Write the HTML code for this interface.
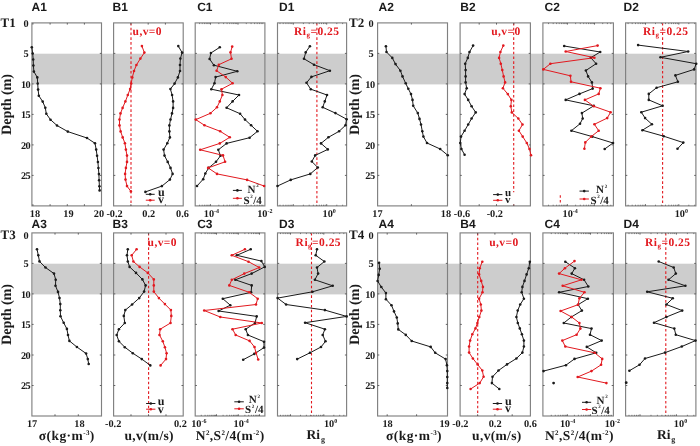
<!DOCTYPE html>
<html><head><meta charset="utf-8"><title>Profiles</title>
<style>html,body{margin:0;padding:0;background:#fff}svg{display:block}text{text-rendering:geometricPrecision}</style>
</head><body>
<svg width="700" height="446" viewBox="0 0 700 446">
<rect x="0" y="0" width="700" height="446" fill="#ffffff"/>
<rect x="32.4" y="53.7" width="314.6" height="30.7" fill="#cdcdcd"/>
<rect x="378" y="53.7" width="318.6" height="30.7" fill="#cdcdcd"/>
<rect x="32.4" y="263.7" width="314.6" height="30.7" fill="#cdcdcd"/>
<rect x="378" y="263.7" width="318.6" height="30.7" fill="#cdcdcd"/>
<rect x="31.9" y="22.9" width="69.6" height="183.0" fill="none" stroke="#808080" stroke-width="1.15"/>
<path d="M31.9,53.4h1.7M101.5,53.4h-1.7M31.9,83.9h1.7M101.5,83.9h-1.7M31.9,114.4h1.7M101.5,114.4h-1.7M31.9,144.9h1.7M101.5,144.9h-1.7M31.9,175.4h1.7M101.5,175.4h-1.7M32.9,22.9v1.7M32.9,205.9v-1.7M50.1,22.9v1.7M50.1,205.9v-1.7M67.3,22.9v1.7M67.3,205.9v-1.7M84.4,22.9v1.7M84.4,205.9v-1.7" stroke="#555" stroke-width="0.9" fill="none"/>
<polyline points="31.8,47.2 32.7,53.5 33.2,59.5 33.4,65.5 33.9,71.6 37.3,77.4 37.7,83.5 38.1,89.6 38.8,95.7 42.7,101.6 45.3,107.7 46.3,113.8 50.5,119.7 57.0,125.5 67.8,131.6 87.0,138.0 95.0,143.3 96.2,149.6 97.1,155.8 97.9,162.0 98.4,168.0 98.9,174.1 99.1,180.2 99.4,186.2 99.6,190.4" fill="none" stroke="#1a1a1a" stroke-width="1.0" stroke-linejoin="round"/>
<circle cx="31.8" cy="47.2" r="1.3" fill="#1a1a1a"/>
<circle cx="32.7" cy="53.5" r="1.3" fill="#1a1a1a"/>
<circle cx="33.2" cy="59.5" r="1.3" fill="#1a1a1a"/>
<circle cx="33.4" cy="65.5" r="1.3" fill="#1a1a1a"/>
<circle cx="33.9" cy="71.6" r="1.3" fill="#1a1a1a"/>
<circle cx="37.3" cy="77.4" r="1.3" fill="#1a1a1a"/>
<circle cx="37.7" cy="83.5" r="1.3" fill="#1a1a1a"/>
<circle cx="38.1" cy="89.6" r="1.3" fill="#1a1a1a"/>
<circle cx="38.8" cy="95.7" r="1.3" fill="#1a1a1a"/>
<circle cx="42.7" cy="101.6" r="1.3" fill="#1a1a1a"/>
<circle cx="45.3" cy="107.7" r="1.3" fill="#1a1a1a"/>
<circle cx="46.3" cy="113.8" r="1.3" fill="#1a1a1a"/>
<circle cx="50.5" cy="119.7" r="1.3" fill="#1a1a1a"/>
<circle cx="57.0" cy="125.5" r="1.3" fill="#1a1a1a"/>
<circle cx="67.8" cy="131.6" r="1.3" fill="#1a1a1a"/>
<circle cx="87.0" cy="138.0" r="1.3" fill="#1a1a1a"/>
<circle cx="95.0" cy="143.3" r="1.3" fill="#1a1a1a"/>
<circle cx="96.2" cy="149.6" r="1.3" fill="#1a1a1a"/>
<circle cx="97.1" cy="155.8" r="1.3" fill="#1a1a1a"/>
<circle cx="97.9" cy="162.0" r="1.3" fill="#1a1a1a"/>
<circle cx="98.4" cy="168.0" r="1.3" fill="#1a1a1a"/>
<circle cx="98.9" cy="174.1" r="1.3" fill="#1a1a1a"/>
<circle cx="99.1" cy="180.2" r="1.3" fill="#1a1a1a"/>
<circle cx="99.4" cy="186.2" r="1.3" fill="#1a1a1a"/>
<circle cx="99.6" cy="190.4" r="1.3" fill="#1a1a1a"/>
<text x="35.0" y="217.0" font-family='"Liberation Serif", serif' font-size="10.3" font-weight="bold" fill="#1a1a1a" text-anchor="middle" >18</text>
<text x="68.4" y="217.0" font-family='"Liberation Serif", serif' font-size="10.3" font-weight="bold" fill="#1a1a1a" text-anchor="middle" >19</text>
<text x="98.9" y="217.0" font-family='"Liberation Serif", serif' font-size="10.3" font-weight="bold" fill="#1a1a1a" text-anchor="middle" >20</text>
<line x1="131.0" y1="22.9" x2="131.0" y2="205.9" stroke="#e2191f" stroke-width="1.1" stroke-dasharray="2.6,2.2"/>
<rect x="113.6" y="22.9" width="69.6" height="183.0" fill="none" stroke="#808080" stroke-width="1.15"/>
<path d="M113.6,53.4h1.7M183.2,53.4h-1.7M113.6,83.9h1.7M183.2,83.9h-1.7M113.6,114.4h1.7M183.2,114.4h-1.7M113.6,144.9h1.7M183.2,144.9h-1.7M113.6,175.4h1.7M183.2,175.4h-1.7M130.9,22.9v1.7M130.9,205.9v-1.7M148.2,22.9v1.7M148.2,205.9v-1.7M165.4,22.9v1.7M165.4,205.9v-1.7" stroke="#555" stroke-width="0.9" fill="none"/>
<polyline points="178.3,46.1 182.1,52.6 180.4,58.6 180.0,65.0 180.0,71.0 177.9,77.4 174.6,83.6 170.4,89.0 172.1,95.0 173.1,101.4 173.1,107.9 172.0,113.4 170.5,119.6 169.4,125.4 169.4,131.4 169.9,137.4 167.3,143.2 163.6,149.6 164.5,155.6 167.7,161.9 170.5,167.9 172.6,173.9 169.9,179.6 161.9,186.1 145.4,191.9" fill="none" stroke="#1a1a1a" stroke-width="1.0" stroke-linejoin="round"/>
<circle cx="178.3" cy="46.1" r="1.3" fill="#1a1a1a"/>
<circle cx="182.1" cy="52.6" r="1.3" fill="#1a1a1a"/>
<circle cx="180.4" cy="58.6" r="1.3" fill="#1a1a1a"/>
<circle cx="180.0" cy="65.0" r="1.3" fill="#1a1a1a"/>
<circle cx="180.0" cy="71.0" r="1.3" fill="#1a1a1a"/>
<circle cx="177.9" cy="77.4" r="1.3" fill="#1a1a1a"/>
<circle cx="174.6" cy="83.6" r="1.3" fill="#1a1a1a"/>
<circle cx="170.4" cy="89.0" r="1.3" fill="#1a1a1a"/>
<circle cx="172.1" cy="95.0" r="1.3" fill="#1a1a1a"/>
<circle cx="173.1" cy="101.4" r="1.3" fill="#1a1a1a"/>
<circle cx="173.1" cy="107.9" r="1.3" fill="#1a1a1a"/>
<circle cx="172.0" cy="113.4" r="1.3" fill="#1a1a1a"/>
<circle cx="170.5" cy="119.6" r="1.3" fill="#1a1a1a"/>
<circle cx="169.4" cy="125.4" r="1.3" fill="#1a1a1a"/>
<circle cx="169.4" cy="131.4" r="1.3" fill="#1a1a1a"/>
<circle cx="169.9" cy="137.4" r="1.3" fill="#1a1a1a"/>
<circle cx="167.3" cy="143.2" r="1.3" fill="#1a1a1a"/>
<circle cx="163.6" cy="149.6" r="1.3" fill="#1a1a1a"/>
<circle cx="164.5" cy="155.6" r="1.3" fill="#1a1a1a"/>
<circle cx="167.7" cy="161.9" r="1.3" fill="#1a1a1a"/>
<circle cx="170.5" cy="167.9" r="1.3" fill="#1a1a1a"/>
<circle cx="172.6" cy="173.9" r="1.3" fill="#1a1a1a"/>
<circle cx="169.9" cy="179.6" r="1.3" fill="#1a1a1a"/>
<circle cx="161.9" cy="186.1" r="1.3" fill="#1a1a1a"/>
<circle cx="145.4" cy="191.9" r="1.3" fill="#1a1a1a"/>
<polyline points="141.9,46.1 144.4,52.6 140.4,58.6 136.4,65.0 134.0,71.0 132.3,77.4 131.2,83.6 130.1,89.0 127.8,95.0 125.4,101.4 122.6,107.9 120.5,113.4 119.5,119.6 119.5,125.4 120.6,131.4 122.7,137.4 124.9,143.2 125.9,149.6 127.0,155.6 127.0,161.9 125.9,167.9 125.1,173.9 125.5,179.6 127.0,186.1 130.9,191.4" fill="none" stroke="#e2191f" stroke-width="1.0" stroke-linejoin="round"/>
<circle cx="141.9" cy="46.1" r="1.3" fill="#e2191f"/>
<circle cx="144.4" cy="52.6" r="1.3" fill="#e2191f"/>
<circle cx="140.4" cy="58.6" r="1.3" fill="#e2191f"/>
<circle cx="136.4" cy="65.0" r="1.3" fill="#e2191f"/>
<circle cx="134.0" cy="71.0" r="1.3" fill="#e2191f"/>
<circle cx="132.3" cy="77.4" r="1.3" fill="#e2191f"/>
<circle cx="131.2" cy="83.6" r="1.3" fill="#e2191f"/>
<circle cx="130.1" cy="89.0" r="1.3" fill="#e2191f"/>
<circle cx="127.8" cy="95.0" r="1.3" fill="#e2191f"/>
<circle cx="125.4" cy="101.4" r="1.3" fill="#e2191f"/>
<circle cx="122.6" cy="107.9" r="1.3" fill="#e2191f"/>
<circle cx="120.5" cy="113.4" r="1.3" fill="#e2191f"/>
<circle cx="119.5" cy="119.6" r="1.3" fill="#e2191f"/>
<circle cx="119.5" cy="125.4" r="1.3" fill="#e2191f"/>
<circle cx="120.6" cy="131.4" r="1.3" fill="#e2191f"/>
<circle cx="122.7" cy="137.4" r="1.3" fill="#e2191f"/>
<circle cx="124.9" cy="143.2" r="1.3" fill="#e2191f"/>
<circle cx="125.9" cy="149.6" r="1.3" fill="#e2191f"/>
<circle cx="127.0" cy="155.6" r="1.3" fill="#e2191f"/>
<circle cx="127.0" cy="161.9" r="1.3" fill="#e2191f"/>
<circle cx="125.9" cy="167.9" r="1.3" fill="#e2191f"/>
<circle cx="125.1" cy="173.9" r="1.3" fill="#e2191f"/>
<circle cx="125.5" cy="179.6" r="1.3" fill="#e2191f"/>
<circle cx="127.0" cy="186.1" r="1.3" fill="#e2191f"/>
<circle cx="130.9" cy="191.4" r="1.3" fill="#e2191f"/>
<text x="114.6" y="217.0" font-family='"Liberation Serif", serif' font-size="10.3" font-weight="bold" fill="#1a1a1a" text-anchor="middle" >-0.2</text>
<text x="148.7" y="217.0" font-family='"Liberation Serif", serif' font-size="10.3" font-weight="bold" fill="#1a1a1a" text-anchor="middle" >0.2</text>
<text x="182.5" y="217.0" font-family='"Liberation Serif", serif' font-size="10.3" font-weight="bold" fill="#1a1a1a" text-anchor="middle" >0.6</text>
<rect x="195.2" y="22.9" width="69.7" height="183.0" fill="none" stroke="#808080" stroke-width="1.15"/>
<path d="M195.2,53.4h1.7M264.9,53.4h-1.7M195.2,83.9h1.7M264.9,83.9h-1.7M195.2,114.4h1.7M264.9,114.4h-1.7M195.2,144.9h1.7M264.9,144.9h-1.7M195.2,175.4h1.7M264.9,175.4h-1.7M210.5,22.9v1.7M210.5,205.9v-1.7M238.0,22.9v1.7M238.0,205.9v-1.7" stroke="#555" stroke-width="0.9" fill="none"/>
<path d="M199.6,22.9v1.2M199.6,205.9v-1.2M202.2,22.9v1.2M202.2,205.9v-1.2M204.4,22.9v1.2M204.4,205.9v-1.2M206.2,22.9v1.2M206.2,205.9v-1.2M207.8,22.9v1.2M207.8,205.9v-1.2M209.2,22.9v1.2M209.2,205.9v-1.2M218.8,22.9v1.2M218.8,205.9v-1.2M223.6,22.9v1.2M223.6,205.9v-1.2M227.1,22.9v1.2M227.1,205.9v-1.2M229.7,22.9v1.2M229.7,205.9v-1.2M231.9,22.9v1.2M231.9,205.9v-1.2M233.7,22.9v1.2M233.7,205.9v-1.2M235.3,22.9v1.2M235.3,205.9v-1.2M236.7,22.9v1.2M236.7,205.9v-1.2M246.3,22.9v1.2M246.3,205.9v-1.2M251.1,22.9v1.2M251.1,205.9v-1.2M254.6,22.9v1.2M254.6,205.9v-1.2M257.2,22.9v1.2M257.2,205.9v-1.2M259.4,22.9v1.2M259.4,205.9v-1.2M261.2,22.9v1.2M261.2,205.9v-1.2M262.8,22.9v1.2M262.8,205.9v-1.2" stroke="#555" stroke-width="0.7" fill="none"/>
<polyline points="219.8,47.3 210.9,53.0 209.6,59.0 213.9,65.2 237.3,71.3 215.6,77.1 214.5,83.3 211.3,89.2 239.0,95.0 232.6,101.4 226.6,107.8 240.1,113.7 245.0,119.6 251.1,125.3 257.5,131.3 249.6,137.7 226.6,143.4 218.3,149.8 220.5,155.8 216.0,161.8 208.7,167.9 205.3,173.5 203.2,179.2 197.0,186.0" fill="none" stroke="#1a1a1a" stroke-width="1.0" stroke-linejoin="round"/>
<circle cx="219.8" cy="47.3" r="1.3" fill="#1a1a1a"/>
<circle cx="210.9" cy="53.0" r="1.3" fill="#1a1a1a"/>
<circle cx="209.6" cy="59.0" r="1.3" fill="#1a1a1a"/>
<circle cx="213.9" cy="65.2" r="1.3" fill="#1a1a1a"/>
<circle cx="237.3" cy="71.3" r="1.3" fill="#1a1a1a"/>
<circle cx="215.6" cy="77.1" r="1.3" fill="#1a1a1a"/>
<circle cx="214.5" cy="83.3" r="1.3" fill="#1a1a1a"/>
<circle cx="211.3" cy="89.2" r="1.3" fill="#1a1a1a"/>
<circle cx="239.0" cy="95.0" r="1.3" fill="#1a1a1a"/>
<circle cx="232.6" cy="101.4" r="1.3" fill="#1a1a1a"/>
<circle cx="226.6" cy="107.8" r="1.3" fill="#1a1a1a"/>
<circle cx="240.1" cy="113.7" r="1.3" fill="#1a1a1a"/>
<circle cx="245.0" cy="119.6" r="1.3" fill="#1a1a1a"/>
<circle cx="251.1" cy="125.3" r="1.3" fill="#1a1a1a"/>
<circle cx="257.5" cy="131.3" r="1.3" fill="#1a1a1a"/>
<circle cx="249.6" cy="137.7" r="1.3" fill="#1a1a1a"/>
<circle cx="226.6" cy="143.4" r="1.3" fill="#1a1a1a"/>
<circle cx="218.3" cy="149.8" r="1.3" fill="#1a1a1a"/>
<circle cx="220.5" cy="155.8" r="1.3" fill="#1a1a1a"/>
<circle cx="216.0" cy="161.8" r="1.3" fill="#1a1a1a"/>
<circle cx="208.7" cy="167.9" r="1.3" fill="#1a1a1a"/>
<circle cx="205.3" cy="173.5" r="1.3" fill="#1a1a1a"/>
<circle cx="203.2" cy="179.2" r="1.3" fill="#1a1a1a"/>
<circle cx="197.0" cy="186.0" r="1.3" fill="#1a1a1a"/>
<polyline points="232.2,46.6 230.5,52.4 231.5,58.8 218.8,64.7 216.6,70.7 225.8,77.1 232.6,83.3 221.5,89.2 222.4,95.0 219.8,101.4 217.0,107.3 210.4,113.3 195.8,119.6 204.5,125.3 220.2,131.3 229.8,137.3 219.8,143.4 200.2,149.8 223.0,155.4 225.1,161.8 208.1,167.9 217.0,173.9 247.1,179.9 264.1,186.0" fill="none" stroke="#e2191f" stroke-width="1.0" stroke-linejoin="round"/>
<circle cx="232.2" cy="46.6" r="1.3" fill="#e2191f"/>
<circle cx="230.5" cy="52.4" r="1.3" fill="#e2191f"/>
<circle cx="231.5" cy="58.8" r="1.3" fill="#e2191f"/>
<circle cx="218.8" cy="64.7" r="1.3" fill="#e2191f"/>
<circle cx="216.6" cy="70.7" r="1.3" fill="#e2191f"/>
<circle cx="225.8" cy="77.1" r="1.3" fill="#e2191f"/>
<circle cx="232.6" cy="83.3" r="1.3" fill="#e2191f"/>
<circle cx="221.5" cy="89.2" r="1.3" fill="#e2191f"/>
<circle cx="222.4" cy="95.0" r="1.3" fill="#e2191f"/>
<circle cx="219.8" cy="101.4" r="1.3" fill="#e2191f"/>
<circle cx="217.0" cy="107.3" r="1.3" fill="#e2191f"/>
<circle cx="210.4" cy="113.3" r="1.3" fill="#e2191f"/>
<circle cx="195.8" cy="119.6" r="1.3" fill="#e2191f"/>
<circle cx="204.5" cy="125.3" r="1.3" fill="#e2191f"/>
<circle cx="220.2" cy="131.3" r="1.3" fill="#e2191f"/>
<circle cx="229.8" cy="137.3" r="1.3" fill="#e2191f"/>
<circle cx="219.8" cy="143.4" r="1.3" fill="#e2191f"/>
<circle cx="200.2" cy="149.8" r="1.3" fill="#e2191f"/>
<circle cx="223.0" cy="155.4" r="1.3" fill="#e2191f"/>
<circle cx="225.1" cy="161.8" r="1.3" fill="#e2191f"/>
<circle cx="208.1" cy="167.9" r="1.3" fill="#e2191f"/>
<circle cx="217.0" cy="173.9" r="1.3" fill="#e2191f"/>
<circle cx="247.1" cy="179.9" r="1.3" fill="#e2191f"/>
<circle cx="264.1" cy="186.0" r="1.3" fill="#e2191f"/>
<text x="211.4" y="217.0" font-family='"Liberation Serif", serif' font-size="10.3" font-weight="bold" fill="#1a1a1a" text-anchor="middle" >10<tspan dy="-4" font-size="6">-4</tspan></text>
<text x="264.8" y="217.0" font-family='"Liberation Serif", serif' font-size="10.3" font-weight="bold" fill="#1a1a1a" text-anchor="middle" >10<tspan dy="-4" font-size="6">-2</tspan></text>
<line x1="316.9" y1="22.9" x2="316.9" y2="205.9" stroke="#e2191f" stroke-width="1.1" stroke-dasharray="2.6,2.2"/>
<rect x="277.5" y="22.9" width="69.1" height="183.0" fill="none" stroke="#808080" stroke-width="1.15"/>
<path d="M277.5,53.4h1.7M346.6,53.4h-1.7M277.5,83.9h1.7M346.6,83.9h-1.7M277.5,114.4h1.7M346.6,114.4h-1.7M277.5,144.9h1.7M346.6,144.9h-1.7M277.5,175.4h1.7M346.6,175.4h-1.7M293.3,22.9v1.7M293.3,205.9v-1.7M326.7,22.9v1.7M326.7,205.9v-1.7" stroke="#555" stroke-width="0.9" fill="none"/>
<path d="M280.0,22.9v1.2M280.0,205.9v-1.2M283.2,22.9v1.2M283.2,205.9v-1.2M285.9,22.9v1.2M285.9,205.9v-1.2M288.1,22.9v1.2M288.1,205.9v-1.2M290.1,22.9v1.2M290.1,205.9v-1.2M291.8,22.9v1.2M291.8,205.9v-1.2M303.4,22.9v1.2M303.4,205.9v-1.2M309.2,22.9v1.2M309.2,205.9v-1.2M313.4,22.9v1.2M313.4,205.9v-1.2M316.6,22.9v1.2M316.6,205.9v-1.2M319.3,22.9v1.2M319.3,205.9v-1.2M321.5,22.9v1.2M321.5,205.9v-1.2M323.5,22.9v1.2M323.5,205.9v-1.2M325.2,22.9v1.2M325.2,205.9v-1.2M336.8,22.9v1.2M336.8,205.9v-1.2M342.6,22.9v1.2M342.6,205.9v-1.2" stroke="#555" stroke-width="0.7" fill="none"/>
<polyline points="309.9,46.2 305.7,52.4 304.0,58.8 314.0,64.7 329.9,70.7 311.4,76.9 306.5,82.8 310.8,89.2 327.0,95.0 324.8,101.4 322.7,107.3 335.4,113.1 346.6,119.2 345.5,125.3 339.1,131.3 328.4,137.3 321.0,143.4 327.8,149.4 315.2,155.4 311.8,161.5 317.8,167.5 310.3,173.9 290.7,179.9 277.5,186.0" fill="none" stroke="#1a1a1a" stroke-width="1.0" stroke-linejoin="round"/>
<circle cx="309.9" cy="46.2" r="1.3" fill="#1a1a1a"/>
<circle cx="305.7" cy="52.4" r="1.3" fill="#1a1a1a"/>
<circle cx="304.0" cy="58.8" r="1.3" fill="#1a1a1a"/>
<circle cx="314.0" cy="64.7" r="1.3" fill="#1a1a1a"/>
<circle cx="329.9" cy="70.7" r="1.3" fill="#1a1a1a"/>
<circle cx="311.4" cy="76.9" r="1.3" fill="#1a1a1a"/>
<circle cx="306.5" cy="82.8" r="1.3" fill="#1a1a1a"/>
<circle cx="310.8" cy="89.2" r="1.3" fill="#1a1a1a"/>
<circle cx="327.0" cy="95.0" r="1.3" fill="#1a1a1a"/>
<circle cx="324.8" cy="101.4" r="1.3" fill="#1a1a1a"/>
<circle cx="322.7" cy="107.3" r="1.3" fill="#1a1a1a"/>
<circle cx="335.4" cy="113.1" r="1.3" fill="#1a1a1a"/>
<circle cx="346.6" cy="119.2" r="1.3" fill="#1a1a1a"/>
<circle cx="345.5" cy="125.3" r="1.3" fill="#1a1a1a"/>
<circle cx="339.1" cy="131.3" r="1.3" fill="#1a1a1a"/>
<circle cx="328.4" cy="137.3" r="1.3" fill="#1a1a1a"/>
<circle cx="321.0" cy="143.4" r="1.3" fill="#1a1a1a"/>
<circle cx="327.8" cy="149.4" r="1.3" fill="#1a1a1a"/>
<circle cx="315.2" cy="155.4" r="1.3" fill="#1a1a1a"/>
<circle cx="311.8" cy="161.5" r="1.3" fill="#1a1a1a"/>
<circle cx="317.8" cy="167.5" r="1.3" fill="#1a1a1a"/>
<circle cx="310.3" cy="173.9" r="1.3" fill="#1a1a1a"/>
<circle cx="290.7" cy="179.9" r="1.3" fill="#1a1a1a"/>
<circle cx="277.5" cy="186.0" r="1.3" fill="#1a1a1a"/>
<text x="329.2" y="217.0" font-family='"Liberation Serif", serif' font-size="10.3" font-weight="bold" fill="#1a1a1a" text-anchor="middle" >10<tspan dy="-4" font-size="6">0</tspan></text>
<rect x="377.6" y="22.9" width="69.9" height="183.0" fill="none" stroke="#808080" stroke-width="1.15"/>
<path d="M377.6,53.4h1.7M447.5,53.4h-1.7M377.6,83.9h1.7M447.5,83.9h-1.7M377.6,114.4h1.7M447.5,114.4h-1.7M377.6,144.9h1.7M447.5,144.9h-1.7M377.6,175.4h1.7M447.5,175.4h-1.7M411.4,22.9v1.7M411.4,205.9v-1.7" stroke="#555" stroke-width="0.9" fill="none"/>
<polyline points="385.9,46.2 386.5,52.0 392.3,57.9 395.5,64.1 400.4,70.7 402.5,76.4 405.7,83.3 408.3,88.8 411.0,94.1 412.5,99.9 413.2,105.8 417.8,113.1 419.5,118.9 421.0,124.5 422.3,131.3 423.4,136.6 427.0,143.0 440.2,149.0 447.7,155.2" fill="none" stroke="#1a1a1a" stroke-width="1.0" stroke-linejoin="round"/>
<circle cx="385.9" cy="46.2" r="1.3" fill="#1a1a1a"/>
<circle cx="386.5" cy="52.0" r="1.3" fill="#1a1a1a"/>
<circle cx="392.3" cy="57.9" r="1.3" fill="#1a1a1a"/>
<circle cx="395.5" cy="64.1" r="1.3" fill="#1a1a1a"/>
<circle cx="400.4" cy="70.7" r="1.3" fill="#1a1a1a"/>
<circle cx="402.5" cy="76.4" r="1.3" fill="#1a1a1a"/>
<circle cx="405.7" cy="83.3" r="1.3" fill="#1a1a1a"/>
<circle cx="408.3" cy="88.8" r="1.3" fill="#1a1a1a"/>
<circle cx="411.0" cy="94.1" r="1.3" fill="#1a1a1a"/>
<circle cx="412.5" cy="99.9" r="1.3" fill="#1a1a1a"/>
<circle cx="413.2" cy="105.8" r="1.3" fill="#1a1a1a"/>
<circle cx="417.8" cy="113.1" r="1.3" fill="#1a1a1a"/>
<circle cx="419.5" cy="118.9" r="1.3" fill="#1a1a1a"/>
<circle cx="421.0" cy="124.5" r="1.3" fill="#1a1a1a"/>
<circle cx="422.3" cy="131.3" r="1.3" fill="#1a1a1a"/>
<circle cx="423.4" cy="136.6" r="1.3" fill="#1a1a1a"/>
<circle cx="427.0" cy="143.0" r="1.3" fill="#1a1a1a"/>
<circle cx="440.2" cy="149.0" r="1.3" fill="#1a1a1a"/>
<circle cx="447.7" cy="155.2" r="1.3" fill="#1a1a1a"/>
<text x="377.4" y="217.0" font-family='"Liberation Serif", serif' font-size="10.3" font-weight="bold" fill="#1a1a1a" text-anchor="middle" >17</text>
<text x="445.9" y="217.0" font-family='"Liberation Serif", serif' font-size="10.3" font-weight="bold" fill="#1a1a1a" text-anchor="middle" >18</text>
<line x1="513.7" y1="22.9" x2="513.7" y2="192.2" stroke="#e2191f" stroke-width="1.1" stroke-dasharray="2.6,2.2"/>
<line x1="513.7" y1="204.4" x2="513.7" y2="205.9" stroke="#e2191f" stroke-width="1.1" stroke-dasharray="2.6,2.2"/>
<rect x="460.1" y="22.9" width="70.3" height="183.0" fill="none" stroke="#808080" stroke-width="1.15"/>
<path d="M460.1,53.4h1.7M530.4,53.4h-1.7M460.1,83.9h1.7M530.4,83.9h-1.7M460.1,114.4h1.7M530.4,114.4h-1.7M460.1,144.9h1.7M530.4,144.9h-1.7M460.1,175.4h1.7M530.4,175.4h-1.7M479.2,22.9v1.7M479.2,205.9v-1.7M496.5,22.9v1.7M496.5,205.9v-1.7M513.8,22.9v1.7M513.8,205.9v-1.7" stroke="#555" stroke-width="0.9" fill="none"/>
<polyline points="473.1,45.6 469.5,52.0 467.8,57.9 465.2,63.7 465.6,70.1 465.6,76.4 465.6,82.4 466.7,88.2 464.6,94.1 468.2,99.9 471.6,106.3 475.7,112.4 471.6,118.5 468.2,124.5 464.6,130.7 461.0,136.6 460.3,143.0 461.4,149.0 464.6,154.7" fill="none" stroke="#1a1a1a" stroke-width="1.0" stroke-linejoin="round"/>
<circle cx="473.1" cy="45.6" r="1.3" fill="#1a1a1a"/>
<circle cx="469.5" cy="52.0" r="1.3" fill="#1a1a1a"/>
<circle cx="467.8" cy="57.9" r="1.3" fill="#1a1a1a"/>
<circle cx="465.2" cy="63.7" r="1.3" fill="#1a1a1a"/>
<circle cx="465.6" cy="70.1" r="1.3" fill="#1a1a1a"/>
<circle cx="465.6" cy="76.4" r="1.3" fill="#1a1a1a"/>
<circle cx="465.6" cy="82.4" r="1.3" fill="#1a1a1a"/>
<circle cx="466.7" cy="88.2" r="1.3" fill="#1a1a1a"/>
<circle cx="464.6" cy="94.1" r="1.3" fill="#1a1a1a"/>
<circle cx="468.2" cy="99.9" r="1.3" fill="#1a1a1a"/>
<circle cx="471.6" cy="106.3" r="1.3" fill="#1a1a1a"/>
<circle cx="475.7" cy="112.4" r="1.3" fill="#1a1a1a"/>
<circle cx="471.6" cy="118.5" r="1.3" fill="#1a1a1a"/>
<circle cx="468.2" cy="124.5" r="1.3" fill="#1a1a1a"/>
<circle cx="464.6" cy="130.7" r="1.3" fill="#1a1a1a"/>
<circle cx="461.0" cy="136.6" r="1.3" fill="#1a1a1a"/>
<circle cx="460.3" cy="143.0" r="1.3" fill="#1a1a1a"/>
<circle cx="461.4" cy="149.0" r="1.3" fill="#1a1a1a"/>
<circle cx="464.6" cy="154.7" r="1.3" fill="#1a1a1a"/>
<polyline points="503.3,45.6 500.4,52.0 499.1,57.9 500.8,63.7 502.3,70.1 503.6,76.4 505.1,82.4 502.9,88.2 507.8,94.1 511.4,99.9 510.8,106.3 511.8,112.4 518.3,118.5 522.5,124.5 518.9,130.7 522.7,136.6 526.8,143.0 529.5,149.0 531.0,155.2" fill="none" stroke="#e2191f" stroke-width="1.0" stroke-linejoin="round"/>
<circle cx="503.3" cy="45.6" r="1.3" fill="#e2191f"/>
<circle cx="500.4" cy="52.0" r="1.3" fill="#e2191f"/>
<circle cx="499.1" cy="57.9" r="1.3" fill="#e2191f"/>
<circle cx="500.8" cy="63.7" r="1.3" fill="#e2191f"/>
<circle cx="502.3" cy="70.1" r="1.3" fill="#e2191f"/>
<circle cx="503.6" cy="76.4" r="1.3" fill="#e2191f"/>
<circle cx="505.1" cy="82.4" r="1.3" fill="#e2191f"/>
<circle cx="502.9" cy="88.2" r="1.3" fill="#e2191f"/>
<circle cx="507.8" cy="94.1" r="1.3" fill="#e2191f"/>
<circle cx="511.4" cy="99.9" r="1.3" fill="#e2191f"/>
<circle cx="510.8" cy="106.3" r="1.3" fill="#e2191f"/>
<circle cx="511.8" cy="112.4" r="1.3" fill="#e2191f"/>
<circle cx="518.3" cy="118.5" r="1.3" fill="#e2191f"/>
<circle cx="522.5" cy="124.5" r="1.3" fill="#e2191f"/>
<circle cx="518.9" cy="130.7" r="1.3" fill="#e2191f"/>
<circle cx="522.7" cy="136.6" r="1.3" fill="#e2191f"/>
<circle cx="526.8" cy="143.0" r="1.3" fill="#e2191f"/>
<circle cx="529.5" cy="149.0" r="1.3" fill="#e2191f"/>
<circle cx="531.0" cy="155.2" r="1.3" fill="#e2191f"/>
<text x="462.0" y="217.0" font-family='"Liberation Serif", serif' font-size="10.3" font-weight="bold" fill="#1a1a1a" text-anchor="middle" >-0.6</text>
<text x="494.8" y="217.0" font-family='"Liberation Serif", serif' font-size="10.3" font-weight="bold" fill="#1a1a1a" text-anchor="middle" >-0.2</text>
<line x1="560.3" y1="195.2" x2="560.3" y2="203.5" stroke="#e2191f" stroke-width="1.1" stroke-dasharray="2.6,2.2"/>
<rect x="542.9" y="22.9" width="70.5" height="183.0" fill="none" stroke="#808080" stroke-width="1.15"/>
<path d="M542.9,53.4h1.7M613.4,53.4h-1.7M542.9,83.9h1.7M613.4,83.9h-1.7M542.9,114.4h1.7M613.4,114.4h-1.7M542.9,144.9h1.7M613.4,144.9h-1.7M542.9,175.4h1.7M613.4,175.4h-1.7M567.4,22.9v1.7M567.4,205.9v-1.7M594.5,22.9v1.7M594.5,205.9v-1.7" stroke="#555" stroke-width="0.9" fill="none"/>
<path d="M548.5,22.9v1.2M548.5,205.9v-1.2M553.2,22.9v1.2M553.2,205.9v-1.2M556.6,22.9v1.2M556.6,205.9v-1.2M559.2,22.9v1.2M559.2,205.9v-1.2M561.4,22.9v1.2M561.4,205.9v-1.2M563.2,22.9v1.2M563.2,205.9v-1.2M564.8,22.9v1.2M564.8,205.9v-1.2M566.2,22.9v1.2M566.2,205.9v-1.2M575.6,22.9v1.2M575.6,205.9v-1.2M580.3,22.9v1.2M580.3,205.9v-1.2M583.7,22.9v1.2M583.7,205.9v-1.2M586.3,22.9v1.2M586.3,205.9v-1.2M588.5,22.9v1.2M588.5,205.9v-1.2M590.3,22.9v1.2M590.3,205.9v-1.2M591.9,22.9v1.2M591.9,205.9v-1.2M593.3,22.9v1.2M593.3,205.9v-1.2M602.7,22.9v1.2M602.7,205.9v-1.2M607.4,22.9v1.2M607.4,205.9v-1.2M610.8,22.9v1.2M610.8,205.9v-1.2" stroke="#555" stroke-width="0.7" fill="none"/>
<polyline points="564.2,46.0 600.2,52.0 590.8,57.7 596.1,63.7 585.9,70.5 588.1,76.4 591.9,82.4 592.7,88.6 579.5,93.9 565.7,99.9 593.8,105.8 581.9,113.1 582.7,118.5 580.0,123.8 571.4,130.7 592.3,136.6 613.0,143.0 604.7,149.0" fill="none" stroke="#1a1a1a" stroke-width="1.0" stroke-linejoin="round"/>
<circle cx="564.2" cy="46.0" r="1.3" fill="#1a1a1a"/>
<circle cx="600.2" cy="52.0" r="1.3" fill="#1a1a1a"/>
<circle cx="590.8" cy="57.7" r="1.3" fill="#1a1a1a"/>
<circle cx="596.1" cy="63.7" r="1.3" fill="#1a1a1a"/>
<circle cx="585.9" cy="70.5" r="1.3" fill="#1a1a1a"/>
<circle cx="588.1" cy="76.4" r="1.3" fill="#1a1a1a"/>
<circle cx="591.9" cy="82.4" r="1.3" fill="#1a1a1a"/>
<circle cx="592.7" cy="88.6" r="1.3" fill="#1a1a1a"/>
<circle cx="579.5" cy="93.9" r="1.3" fill="#1a1a1a"/>
<circle cx="565.7" cy="99.9" r="1.3" fill="#1a1a1a"/>
<circle cx="593.8" cy="105.8" r="1.3" fill="#1a1a1a"/>
<circle cx="581.9" cy="113.1" r="1.3" fill="#1a1a1a"/>
<circle cx="582.7" cy="118.5" r="1.3" fill="#1a1a1a"/>
<circle cx="580.0" cy="123.8" r="1.3" fill="#1a1a1a"/>
<circle cx="571.4" cy="130.7" r="1.3" fill="#1a1a1a"/>
<circle cx="592.3" cy="136.6" r="1.3" fill="#1a1a1a"/>
<circle cx="613.0" cy="143.0" r="1.3" fill="#1a1a1a"/>
<circle cx="604.7" cy="149.0" r="1.3" fill="#1a1a1a"/>
<polyline points="597.6,45.6 565.7,51.5 594.4,57.7 550.4,63.7 543.3,69.4 570.4,75.8 571.0,81.8 600.4,88.2 598.7,93.9 584.9,99.9 593.8,106.3 610.6,112.2 607.2,118.1 594.4,124.3 598.7,130.7 591.2,136.6 585.3,142.4 584.4,148.8" fill="none" stroke="#e2191f" stroke-width="1.0" stroke-linejoin="round"/>
<circle cx="597.6" cy="45.6" r="1.3" fill="#e2191f"/>
<circle cx="565.7" cy="51.5" r="1.3" fill="#e2191f"/>
<circle cx="594.4" cy="57.7" r="1.3" fill="#e2191f"/>
<circle cx="550.4" cy="63.7" r="1.3" fill="#e2191f"/>
<circle cx="543.3" cy="69.4" r="1.3" fill="#e2191f"/>
<circle cx="570.4" cy="75.8" r="1.3" fill="#e2191f"/>
<circle cx="571.0" cy="81.8" r="1.3" fill="#e2191f"/>
<circle cx="600.4" cy="88.2" r="1.3" fill="#e2191f"/>
<circle cx="598.7" cy="93.9" r="1.3" fill="#e2191f"/>
<circle cx="584.9" cy="99.9" r="1.3" fill="#e2191f"/>
<circle cx="593.8" cy="106.3" r="1.3" fill="#e2191f"/>
<circle cx="610.6" cy="112.2" r="1.3" fill="#e2191f"/>
<circle cx="607.2" cy="118.1" r="1.3" fill="#e2191f"/>
<circle cx="594.4" cy="124.3" r="1.3" fill="#e2191f"/>
<circle cx="598.7" cy="130.7" r="1.3" fill="#e2191f"/>
<circle cx="591.2" cy="136.6" r="1.3" fill="#e2191f"/>
<circle cx="585.3" cy="142.4" r="1.3" fill="#e2191f"/>
<circle cx="584.4" cy="148.8" r="1.3" fill="#e2191f"/>
<text x="570.2" y="217.0" font-family='"Liberation Serif", serif' font-size="10.3" font-weight="bold" fill="#1a1a1a" text-anchor="middle" >10<tspan dy="-4" font-size="6">-4</tspan></text>
<line x1="662.6" y1="22.9" x2="662.6" y2="205.9" stroke="#e2191f" stroke-width="1.1" stroke-dasharray="2.6,2.2"/>
<rect x="625.6" y="22.9" width="70.3" height="183.0" fill="none" stroke="#808080" stroke-width="1.15"/>
<path d="M625.6,53.4h1.7M695.9,53.4h-1.7M625.6,83.9h1.7M695.9,83.9h-1.7M625.6,114.4h1.7M695.9,114.4h-1.7M625.6,144.9h1.7M695.9,144.9h-1.7M625.6,175.4h1.7M695.9,175.4h-1.7M645.5,22.9v1.7M645.5,205.9v-1.7M678.8,22.9v1.7M678.8,205.9v-1.7" stroke="#555" stroke-width="0.9" fill="none"/>
<path d="M628.1,22.9v1.2M628.1,205.9v-1.2M632.2,22.9v1.2M632.2,205.9v-1.2M635.5,22.9v1.2M635.5,205.9v-1.2M638.1,22.9v1.2M638.1,205.9v-1.2M640.3,22.9v1.2M640.3,205.9v-1.2M642.3,22.9v1.2M642.3,205.9v-1.2M644.0,22.9v1.2M644.0,205.9v-1.2M655.5,22.9v1.2M655.5,205.9v-1.2M661.4,22.9v1.2M661.4,205.9v-1.2M665.5,22.9v1.2M665.5,205.9v-1.2M668.8,22.9v1.2M668.8,205.9v-1.2M671.4,22.9v1.2M671.4,205.9v-1.2M673.6,22.9v1.2M673.6,205.9v-1.2M675.6,22.9v1.2M675.6,205.9v-1.2M677.3,22.9v1.2M677.3,205.9v-1.2M688.8,22.9v1.2M688.8,205.9v-1.2M694.7,22.9v1.2M694.7,205.9v-1.2" stroke="#555" stroke-width="0.7" fill="none"/>
<polyline points="638.1,45.1 688.2,51.5 660.5,57.3 696.2,63.7 694.1,69.4 675.4,75.4 677.9,81.8 656.6,87.7 648.8,93.9 648.8,99.9 662.6,105.8 641.3,112.2 645.1,118.1 651.9,124.3 642.4,130.2 663.7,136.2 683.3,142.6 677.5,148.8" fill="none" stroke="#1a1a1a" stroke-width="1.0" stroke-linejoin="round"/>
<circle cx="638.1" cy="45.1" r="1.3" fill="#1a1a1a"/>
<circle cx="688.2" cy="51.5" r="1.3" fill="#1a1a1a"/>
<circle cx="660.5" cy="57.3" r="1.3" fill="#1a1a1a"/>
<circle cx="696.2" cy="63.7" r="1.3" fill="#1a1a1a"/>
<circle cx="694.1" cy="69.4" r="1.3" fill="#1a1a1a"/>
<circle cx="675.4" cy="75.4" r="1.3" fill="#1a1a1a"/>
<circle cx="677.9" cy="81.8" r="1.3" fill="#1a1a1a"/>
<circle cx="656.6" cy="87.7" r="1.3" fill="#1a1a1a"/>
<circle cx="648.8" cy="93.9" r="1.3" fill="#1a1a1a"/>
<circle cx="648.8" cy="99.9" r="1.3" fill="#1a1a1a"/>
<circle cx="662.6" cy="105.8" r="1.3" fill="#1a1a1a"/>
<circle cx="641.3" cy="112.2" r="1.3" fill="#1a1a1a"/>
<circle cx="645.1" cy="118.1" r="1.3" fill="#1a1a1a"/>
<circle cx="651.9" cy="124.3" r="1.3" fill="#1a1a1a"/>
<circle cx="642.4" cy="130.2" r="1.3" fill="#1a1a1a"/>
<circle cx="663.7" cy="136.2" r="1.3" fill="#1a1a1a"/>
<circle cx="683.3" cy="142.6" r="1.3" fill="#1a1a1a"/>
<circle cx="677.5" cy="148.8" r="1.3" fill="#1a1a1a"/>
<text x="681.3" y="217.0" font-family='"Liberation Serif", serif' font-size="10.3" font-weight="bold" fill="#1a1a1a" text-anchor="middle" >10<tspan dy="-4" font-size="6">0</tspan></text>
<rect x="31.9" y="232.9" width="69.6" height="183.1" fill="none" stroke="#808080" stroke-width="1.15"/>
<path d="M31.9,263.4h1.7M101.5,263.4h-1.7M31.9,293.9h1.7M101.5,293.9h-1.7M31.9,324.4h1.7M101.5,324.4h-1.7M31.9,355.0h1.7M101.5,355.0h-1.7M31.9,385.5h1.7M101.5,385.5h-1.7M55.0,232.9v1.7M55.0,416.0v-1.7M78.3,232.9v1.7M78.3,416.0v-1.7" stroke="#555" stroke-width="0.9" fill="none"/>
<polyline points="37.0,249.2 38.3,255.3 39.5,261.4 45.5,267.5 54.0,273.6 55.7,279.7 55.5,285.8 58.0,291.9 59.5,298.0 60.3,304.1 60.3,310.2 60.5,316.3 63.7,322.8 66.9,328.9 68.0,335.0 69.4,340.9 76.9,347.0 86.1,353.5 87.8,359.1 88.7,364.0" fill="none" stroke="#1a1a1a" stroke-width="1.0" stroke-linejoin="round"/>
<circle cx="37.0" cy="249.2" r="1.3" fill="#1a1a1a"/>
<circle cx="38.3" cy="255.3" r="1.3" fill="#1a1a1a"/>
<circle cx="39.5" cy="261.4" r="1.3" fill="#1a1a1a"/>
<circle cx="45.5" cy="267.5" r="1.3" fill="#1a1a1a"/>
<circle cx="54.0" cy="273.6" r="1.3" fill="#1a1a1a"/>
<circle cx="55.7" cy="279.7" r="1.3" fill="#1a1a1a"/>
<circle cx="55.5" cy="285.8" r="1.3" fill="#1a1a1a"/>
<circle cx="58.0" cy="291.9" r="1.3" fill="#1a1a1a"/>
<circle cx="59.5" cy="298.0" r="1.3" fill="#1a1a1a"/>
<circle cx="60.3" cy="304.1" r="1.3" fill="#1a1a1a"/>
<circle cx="60.3" cy="310.2" r="1.3" fill="#1a1a1a"/>
<circle cx="60.5" cy="316.3" r="1.3" fill="#1a1a1a"/>
<circle cx="63.7" cy="322.8" r="1.3" fill="#1a1a1a"/>
<circle cx="66.9" cy="328.9" r="1.3" fill="#1a1a1a"/>
<circle cx="68.0" cy="335.0" r="1.3" fill="#1a1a1a"/>
<circle cx="69.4" cy="340.9" r="1.3" fill="#1a1a1a"/>
<circle cx="76.9" cy="347.0" r="1.3" fill="#1a1a1a"/>
<circle cx="86.1" cy="353.5" r="1.3" fill="#1a1a1a"/>
<circle cx="87.8" cy="359.1" r="1.3" fill="#1a1a1a"/>
<circle cx="88.7" cy="364.0" r="1.3" fill="#1a1a1a"/>
<text x="32.1" y="426.8" font-family='"Liberation Serif", serif' font-size="10.3" font-weight="bold" fill="#1a1a1a" text-anchor="middle" >17</text>
<text x="79.5" y="426.8" font-family='"Liberation Serif", serif' font-size="10.3" font-weight="bold" fill="#1a1a1a" text-anchor="middle" >18</text>
<line x1="148.6" y1="232.9" x2="148.6" y2="416.0" stroke="#e2191f" stroke-width="1.1" stroke-dasharray="2.6,2.2"/>
<rect x="113.6" y="232.9" width="69.6" height="183.1" fill="none" stroke="#808080" stroke-width="1.15"/>
<path d="M113.6,263.4h1.7M183.2,263.4h-1.7M113.6,293.9h1.7M183.2,293.9h-1.7M113.6,324.4h1.7M183.2,324.4h-1.7M113.6,355.0h1.7M183.2,355.0h-1.7M113.6,385.5h1.7M183.2,385.5h-1.7M131.0,232.9v1.7M131.0,416.0v-1.7M148.5,232.9v1.7M148.5,416.0v-1.7M166.0,232.9v1.7M166.0,416.0v-1.7" stroke="#555" stroke-width="0.9" fill="none"/>
<polyline points="127.8,249.3 127.0,255.3 127.8,261.5 129.6,266.9 136.0,272.9 142.4,279.4 145.6,285.4 144.1,291.6 139.2,298.1 132.1,304.5 125.3,310.1 123.8,315.9 124.8,323.0 118.9,329.2 116.7,335.0 118.9,341.3 124.8,347.2 132.8,353.2 141.8,359.1 150.3,365.4" fill="none" stroke="#1a1a1a" stroke-width="1.0" stroke-linejoin="round"/>
<circle cx="127.8" cy="249.3" r="1.3" fill="#1a1a1a"/>
<circle cx="127.0" cy="255.3" r="1.3" fill="#1a1a1a"/>
<circle cx="127.8" cy="261.5" r="1.3" fill="#1a1a1a"/>
<circle cx="129.6" cy="266.9" r="1.3" fill="#1a1a1a"/>
<circle cx="136.0" cy="272.9" r="1.3" fill="#1a1a1a"/>
<circle cx="142.4" cy="279.4" r="1.3" fill="#1a1a1a"/>
<circle cx="145.6" cy="285.4" r="1.3" fill="#1a1a1a"/>
<circle cx="144.1" cy="291.6" r="1.3" fill="#1a1a1a"/>
<circle cx="139.2" cy="298.1" r="1.3" fill="#1a1a1a"/>
<circle cx="132.1" cy="304.5" r="1.3" fill="#1a1a1a"/>
<circle cx="125.3" cy="310.1" r="1.3" fill="#1a1a1a"/>
<circle cx="123.8" cy="315.9" r="1.3" fill="#1a1a1a"/>
<circle cx="124.8" cy="323.0" r="1.3" fill="#1a1a1a"/>
<circle cx="118.9" cy="329.2" r="1.3" fill="#1a1a1a"/>
<circle cx="116.7" cy="335.0" r="1.3" fill="#1a1a1a"/>
<circle cx="118.9" cy="341.3" r="1.3" fill="#1a1a1a"/>
<circle cx="124.8" cy="347.2" r="1.3" fill="#1a1a1a"/>
<circle cx="132.8" cy="353.2" r="1.3" fill="#1a1a1a"/>
<circle cx="141.8" cy="359.1" r="1.3" fill="#1a1a1a"/>
<circle cx="150.3" cy="365.4" r="1.3" fill="#1a1a1a"/>
<polyline points="136.6,249.3 131.7,255.3 133.4,261.5 139.6,266.9 147.8,272.9 153.8,279.4 153.8,285.4 153.8,291.6 158.9,298.1 164.9,304.1 170.9,310.1 171.3,315.9 170.5,323.0 160.2,329.2 159.5,335.0 162.8,341.3 164.9,347.2 166.6,353.2 166.0,359.1 160.6,365.4" fill="none" stroke="#e2191f" stroke-width="1.0" stroke-linejoin="round"/>
<circle cx="136.6" cy="249.3" r="1.3" fill="#e2191f"/>
<circle cx="131.7" cy="255.3" r="1.3" fill="#e2191f"/>
<circle cx="133.4" cy="261.5" r="1.3" fill="#e2191f"/>
<circle cx="139.6" cy="266.9" r="1.3" fill="#e2191f"/>
<circle cx="147.8" cy="272.9" r="1.3" fill="#e2191f"/>
<circle cx="153.8" cy="279.4" r="1.3" fill="#e2191f"/>
<circle cx="153.8" cy="285.4" r="1.3" fill="#e2191f"/>
<circle cx="153.8" cy="291.6" r="1.3" fill="#e2191f"/>
<circle cx="158.9" cy="298.1" r="1.3" fill="#e2191f"/>
<circle cx="164.9" cy="304.1" r="1.3" fill="#e2191f"/>
<circle cx="170.9" cy="310.1" r="1.3" fill="#e2191f"/>
<circle cx="171.3" cy="315.9" r="1.3" fill="#e2191f"/>
<circle cx="170.5" cy="323.0" r="1.3" fill="#e2191f"/>
<circle cx="160.2" cy="329.2" r="1.3" fill="#e2191f"/>
<circle cx="159.5" cy="335.0" r="1.3" fill="#e2191f"/>
<circle cx="162.8" cy="341.3" r="1.3" fill="#e2191f"/>
<circle cx="164.9" cy="347.2" r="1.3" fill="#e2191f"/>
<circle cx="166.6" cy="353.2" r="1.3" fill="#e2191f"/>
<circle cx="166.0" cy="359.1" r="1.3" fill="#e2191f"/>
<circle cx="160.6" cy="365.4" r="1.3" fill="#e2191f"/>
<text x="113.2" y="426.8" font-family='"Liberation Serif", serif' font-size="10.3" font-weight="bold" fill="#1a1a1a" text-anchor="middle" >-0.2</text>
<text x="180.4" y="426.8" font-family='"Liberation Serif", serif' font-size="10.3" font-weight="bold" fill="#1a1a1a" text-anchor="middle" >0.2</text>
<rect x="195.2" y="232.9" width="69.7" height="183.1" fill="none" stroke="#808080" stroke-width="1.15"/>
<path d="M195.2,263.4h1.7M264.9,263.4h-1.7M195.2,293.9h1.7M264.9,293.9h-1.7M195.2,324.4h1.7M264.9,324.4h-1.7M195.2,355.0h1.7M264.9,355.0h-1.7M195.2,385.5h1.7M264.9,385.5h-1.7M216.5,232.9v1.7M216.5,416.0v-1.7M238.3,232.9v1.7M238.3,416.0v-1.7M259.5,232.9v1.7M259.5,416.0v-1.7" stroke="#555" stroke-width="0.9" fill="none"/>
<path d="M201.3,232.9v1.2M201.3,416.0v-1.2M205.1,232.9v1.2M205.1,416.0v-1.2M207.8,232.9v1.2M207.8,416.0v-1.2M209.9,232.9v1.2M209.9,416.0v-1.2M211.7,232.9v1.2M211.7,416.0v-1.2M213.1,232.9v1.2M213.1,416.0v-1.2M214.4,232.9v1.2M214.4,416.0v-1.2M215.5,232.9v1.2M215.5,416.0v-1.2M223.1,232.9v1.2M223.1,416.0v-1.2M226.9,232.9v1.2M226.9,416.0v-1.2M229.6,232.9v1.2M229.6,416.0v-1.2M231.7,232.9v1.2M231.7,416.0v-1.2M233.5,232.9v1.2M233.5,416.0v-1.2M234.9,232.9v1.2M234.9,416.0v-1.2M236.2,232.9v1.2M236.2,416.0v-1.2M237.3,232.9v1.2M237.3,416.0v-1.2M244.9,232.9v1.2M244.9,416.0v-1.2M248.7,232.9v1.2M248.7,416.0v-1.2M251.4,232.9v1.2M251.4,416.0v-1.2M253.5,232.9v1.2M253.5,416.0v-1.2M255.3,232.9v1.2M255.3,416.0v-1.2M256.7,232.9v1.2M256.7,416.0v-1.2M258.0,232.9v1.2M258.0,416.0v-1.2M259.1,232.9v1.2M259.1,416.0v-1.2" stroke="#555" stroke-width="0.7" fill="none"/>
<polyline points="250.7,249.3 236.8,255.3 261.4,261.1 264.7,266.9 251.7,273.6 235.3,279.8 251.7,285.4 251.1,292.3 222.8,298.7 230.3,305.2 218.6,311.0 256.7,316.4 255.0,323.0 245.7,329.2 247.9,335.0 264.0,341.7 264.0,347.6 254.3,353.9 243.2,359.7" fill="none" stroke="#1a1a1a" stroke-width="1.0" stroke-linejoin="round"/>
<circle cx="250.7" cy="249.3" r="1.3" fill="#1a1a1a"/>
<circle cx="236.8" cy="255.3" r="1.3" fill="#1a1a1a"/>
<circle cx="261.4" cy="261.1" r="1.3" fill="#1a1a1a"/>
<circle cx="264.7" cy="266.9" r="1.3" fill="#1a1a1a"/>
<circle cx="251.7" cy="273.6" r="1.3" fill="#1a1a1a"/>
<circle cx="235.3" cy="279.8" r="1.3" fill="#1a1a1a"/>
<circle cx="251.7" cy="285.4" r="1.3" fill="#1a1a1a"/>
<circle cx="251.1" cy="292.3" r="1.3" fill="#1a1a1a"/>
<circle cx="222.8" cy="298.7" r="1.3" fill="#1a1a1a"/>
<circle cx="230.3" cy="305.2" r="1.3" fill="#1a1a1a"/>
<circle cx="218.6" cy="311.0" r="1.3" fill="#1a1a1a"/>
<circle cx="256.7" cy="316.4" r="1.3" fill="#1a1a1a"/>
<circle cx="255.0" cy="323.0" r="1.3" fill="#1a1a1a"/>
<circle cx="245.7" cy="329.2" r="1.3" fill="#1a1a1a"/>
<circle cx="247.9" cy="335.0" r="1.3" fill="#1a1a1a"/>
<circle cx="264.0" cy="341.7" r="1.3" fill="#1a1a1a"/>
<circle cx="264.0" cy="347.6" r="1.3" fill="#1a1a1a"/>
<circle cx="254.3" cy="353.9" r="1.3" fill="#1a1a1a"/>
<circle cx="243.2" cy="359.7" r="1.3" fill="#1a1a1a"/>
<polyline points="244.9,249.3 231.8,255.3 248.5,261.7 259.2,267.5 244.3,273.6 231.8,279.8 229.3,285.4 249.2,292.3 257.7,298.7 256.0,304.5 204.2,310.5 220.3,317.0 261.8,323.0 232.5,329.2 235.7,335.0 249.6,340.9 254.5,347.0 256.0,352.8 258.2,359.5" fill="none" stroke="#e2191f" stroke-width="1.0" stroke-linejoin="round"/>
<circle cx="244.9" cy="249.3" r="1.3" fill="#e2191f"/>
<circle cx="231.8" cy="255.3" r="1.3" fill="#e2191f"/>
<circle cx="248.5" cy="261.7" r="1.3" fill="#e2191f"/>
<circle cx="259.2" cy="267.5" r="1.3" fill="#e2191f"/>
<circle cx="244.3" cy="273.6" r="1.3" fill="#e2191f"/>
<circle cx="231.8" cy="279.8" r="1.3" fill="#e2191f"/>
<circle cx="229.3" cy="285.4" r="1.3" fill="#e2191f"/>
<circle cx="249.2" cy="292.3" r="1.3" fill="#e2191f"/>
<circle cx="257.7" cy="298.7" r="1.3" fill="#e2191f"/>
<circle cx="256.0" cy="304.5" r="1.3" fill="#e2191f"/>
<circle cx="204.2" cy="310.5" r="1.3" fill="#e2191f"/>
<circle cx="220.3" cy="317.0" r="1.3" fill="#e2191f"/>
<circle cx="261.8" cy="323.0" r="1.3" fill="#e2191f"/>
<circle cx="232.5" cy="329.2" r="1.3" fill="#e2191f"/>
<circle cx="235.7" cy="335.0" r="1.3" fill="#e2191f"/>
<circle cx="249.6" cy="340.9" r="1.3" fill="#e2191f"/>
<circle cx="254.5" cy="347.0" r="1.3" fill="#e2191f"/>
<circle cx="256.0" cy="352.8" r="1.3" fill="#e2191f"/>
<circle cx="258.2" cy="359.5" r="1.3" fill="#e2191f"/>
<text x="198.8" y="426.8" font-family='"Liberation Serif", serif' font-size="10.3" font-weight="bold" fill="#1a1a1a" text-anchor="middle" >10<tspan dy="-4" font-size="6">-6</tspan></text>
<text x="241.2" y="426.8" font-family='"Liberation Serif", serif' font-size="10.3" font-weight="bold" fill="#1a1a1a" text-anchor="middle" >10<tspan dy="-4" font-size="6">-4</tspan></text>
<line x1="311.5" y1="232.9" x2="311.5" y2="416.0" stroke="#e2191f" stroke-width="1.1" stroke-dasharray="2.6,2.2"/>
<rect x="277.5" y="232.9" width="69.1" height="183.1" fill="none" stroke="#808080" stroke-width="1.15"/>
<path d="M277.5,263.4h1.7M346.6,263.4h-1.7M277.5,293.9h1.7M346.6,293.9h-1.7M277.5,324.4h1.7M346.6,324.4h-1.7M277.5,355.0h1.7M346.6,355.0h-1.7M277.5,385.5h1.7M346.6,385.5h-1.7M290.5,232.9v1.7M290.5,416.0v-1.7M323.8,232.9v1.7M323.8,416.0v-1.7" stroke="#555" stroke-width="0.9" fill="none"/>
<path d="M280.5,232.9v1.2M280.5,416.0v-1.2M283.1,232.9v1.2M283.1,416.0v-1.2M285.3,232.9v1.2M285.3,416.0v-1.2M287.3,232.9v1.2M287.3,416.0v-1.2M289.0,232.9v1.2M289.0,416.0v-1.2M300.5,232.9v1.2M300.5,416.0v-1.2M306.4,232.9v1.2M306.4,416.0v-1.2M310.5,232.9v1.2M310.5,416.0v-1.2M313.8,232.9v1.2M313.8,416.0v-1.2M316.4,232.9v1.2M316.4,416.0v-1.2M318.6,232.9v1.2M318.6,416.0v-1.2M320.6,232.9v1.2M320.6,416.0v-1.2M322.3,232.9v1.2M322.3,416.0v-1.2M333.8,232.9v1.2M333.8,416.0v-1.2M339.7,232.9v1.2M339.7,416.0v-1.2M343.8,232.9v1.2M343.8,416.0v-1.2" stroke="#555" stroke-width="0.7" fill="none"/>
<polyline points="317.0,249.3 315.7,255.3 324.4,261.5 317.0,267.5 318.1,273.6 314.9,279.8 332.7,285.8 312.5,291.8 277.6,298.1 286.1,304.5 324.9,310.1 346.6,316.4 305.1,322.7 324.9,329.2 322.7,335.0 325.5,341.3 321.0,347.0 310.0,352.8 297.2,359.1" fill="none" stroke="#1a1a1a" stroke-width="1.0" stroke-linejoin="round"/>
<circle cx="317.0" cy="249.3" r="1.3" fill="#1a1a1a"/>
<circle cx="315.7" cy="255.3" r="1.3" fill="#1a1a1a"/>
<circle cx="324.4" cy="261.5" r="1.3" fill="#1a1a1a"/>
<circle cx="317.0" cy="267.5" r="1.3" fill="#1a1a1a"/>
<circle cx="318.1" cy="273.6" r="1.3" fill="#1a1a1a"/>
<circle cx="314.9" cy="279.8" r="1.3" fill="#1a1a1a"/>
<circle cx="332.7" cy="285.8" r="1.3" fill="#1a1a1a"/>
<circle cx="312.5" cy="291.8" r="1.3" fill="#1a1a1a"/>
<circle cx="277.6" cy="298.1" r="1.3" fill="#1a1a1a"/>
<circle cx="286.1" cy="304.5" r="1.3" fill="#1a1a1a"/>
<circle cx="324.9" cy="310.1" r="1.3" fill="#1a1a1a"/>
<circle cx="346.6" cy="316.4" r="1.3" fill="#1a1a1a"/>
<circle cx="305.1" cy="322.7" r="1.3" fill="#1a1a1a"/>
<circle cx="324.9" cy="329.2" r="1.3" fill="#1a1a1a"/>
<circle cx="322.7" cy="335.0" r="1.3" fill="#1a1a1a"/>
<circle cx="325.5" cy="341.3" r="1.3" fill="#1a1a1a"/>
<circle cx="321.0" cy="347.0" r="1.3" fill="#1a1a1a"/>
<circle cx="310.0" cy="352.8" r="1.3" fill="#1a1a1a"/>
<circle cx="297.2" cy="359.1" r="1.3" fill="#1a1a1a"/>
<text x="330.6" y="426.8" font-family='"Liberation Serif", serif' font-size="10.3" font-weight="bold" fill="#1a1a1a" text-anchor="middle" >10<tspan dy="-4" font-size="6">0</tspan></text>
<rect x="377.6" y="232.9" width="69.9" height="183.1" fill="none" stroke="#808080" stroke-width="1.15"/>
<path d="M377.6,263.4h1.7M447.5,263.4h-1.7M377.6,293.9h1.7M447.5,293.9h-1.7M377.6,324.4h1.7M447.5,324.4h-1.7M377.6,355.0h1.7M447.5,355.0h-1.7M377.6,385.5h1.7M447.5,385.5h-1.7M387.2,232.9v1.7M387.2,416.0v-1.7M416.6,232.9v1.7M416.6,416.0v-1.7" stroke="#555" stroke-width="0.9" fill="none"/>
<polyline points="379.1,262.8 379.7,268.8 378.7,274.9 377.6,281.0 381.3,287.0 385.9,293.1 385.9,299.2 391.5,305.3 394.0,311.4 396.8,317.5 397.7,323.4 398.3,329.4 405.8,334.9 411.7,341.0 430.7,346.9 435.2,352.8 445.6,359.1 446.9,365.2 447.3,371.1 447.3,377.0 447.3,383.1 447.3,388.0" fill="none" stroke="#1a1a1a" stroke-width="1.0" stroke-linejoin="round"/>
<circle cx="379.1" cy="262.8" r="1.3" fill="#1a1a1a"/>
<circle cx="379.7" cy="268.8" r="1.3" fill="#1a1a1a"/>
<circle cx="378.7" cy="274.9" r="1.3" fill="#1a1a1a"/>
<circle cx="377.6" cy="281.0" r="1.3" fill="#1a1a1a"/>
<circle cx="381.3" cy="287.0" r="1.3" fill="#1a1a1a"/>
<circle cx="385.9" cy="293.1" r="1.3" fill="#1a1a1a"/>
<circle cx="385.9" cy="299.2" r="1.3" fill="#1a1a1a"/>
<circle cx="391.5" cy="305.3" r="1.3" fill="#1a1a1a"/>
<circle cx="394.0" cy="311.4" r="1.3" fill="#1a1a1a"/>
<circle cx="396.8" cy="317.5" r="1.3" fill="#1a1a1a"/>
<circle cx="397.7" cy="323.4" r="1.3" fill="#1a1a1a"/>
<circle cx="398.3" cy="329.4" r="1.3" fill="#1a1a1a"/>
<circle cx="405.8" cy="334.9" r="1.3" fill="#1a1a1a"/>
<circle cx="411.7" cy="341.0" r="1.3" fill="#1a1a1a"/>
<circle cx="430.7" cy="346.9" r="1.3" fill="#1a1a1a"/>
<circle cx="435.2" cy="352.8" r="1.3" fill="#1a1a1a"/>
<circle cx="445.6" cy="359.1" r="1.3" fill="#1a1a1a"/>
<circle cx="446.9" cy="365.2" r="1.3" fill="#1a1a1a"/>
<circle cx="447.3" cy="371.1" r="1.3" fill="#1a1a1a"/>
<circle cx="447.3" cy="377.0" r="1.3" fill="#1a1a1a"/>
<circle cx="447.3" cy="383.1" r="1.3" fill="#1a1a1a"/>
<circle cx="447.3" cy="388.0" r="1.3" fill="#1a1a1a"/>
<text x="387.6" y="426.8" font-family='"Liberation Serif", serif' font-size="10.3" font-weight="bold" fill="#1a1a1a" text-anchor="middle" >18</text>
<text x="444.6" y="426.8" font-family='"Liberation Serif", serif' font-size="10.3" font-weight="bold" fill="#1a1a1a" text-anchor="middle" >19</text>
<line x1="477.7" y1="232.9" x2="477.7" y2="416.0" stroke="#e2191f" stroke-width="1.1" stroke-dasharray="2.6,2.2"/>
<rect x="460.1" y="232.9" width="70.3" height="183.1" fill="none" stroke="#808080" stroke-width="1.15"/>
<path d="M460.1,263.4h1.7M530.4,263.4h-1.7M460.1,293.9h1.7M530.4,293.9h-1.7M460.1,324.4h1.7M530.4,324.4h-1.7M460.1,355.0h1.7M530.4,355.0h-1.7M460.1,385.5h1.7M530.4,385.5h-1.7M477.6,232.9v1.7M477.6,416.0v-1.7M494.9,232.9v1.7M494.9,416.0v-1.7M512.2,232.9v1.7M512.2,416.0v-1.7" stroke="#555" stroke-width="0.9" fill="none"/>
<polyline points="529.8,261.7 528.8,268.2 526.6,274.4 524.5,280.9 522.4,286.9 521.7,292.3 523.9,298.7 520.2,304.5 517.7,310.6 516.4,317.0 517.8,323.0 519.8,328.4 521.9,334.3 523.9,340.6 523.9,346.5 522.4,352.6 516.4,358.5 507.0,364.4 498.5,370.5 492.5,376.8 491.9,383.1 499.3,389.0" fill="none" stroke="#1a1a1a" stroke-width="1.0" stroke-linejoin="round"/>
<circle cx="529.8" cy="261.7" r="1.3" fill="#1a1a1a"/>
<circle cx="528.8" cy="268.2" r="1.3" fill="#1a1a1a"/>
<circle cx="526.6" cy="274.4" r="1.3" fill="#1a1a1a"/>
<circle cx="524.5" cy="280.9" r="1.3" fill="#1a1a1a"/>
<circle cx="522.4" cy="286.9" r="1.3" fill="#1a1a1a"/>
<circle cx="521.7" cy="292.3" r="1.3" fill="#1a1a1a"/>
<circle cx="523.9" cy="298.7" r="1.3" fill="#1a1a1a"/>
<circle cx="520.2" cy="304.5" r="1.3" fill="#1a1a1a"/>
<circle cx="517.7" cy="310.6" r="1.3" fill="#1a1a1a"/>
<circle cx="516.4" cy="317.0" r="1.3" fill="#1a1a1a"/>
<circle cx="517.8" cy="323.0" r="1.3" fill="#1a1a1a"/>
<circle cx="519.8" cy="328.4" r="1.3" fill="#1a1a1a"/>
<circle cx="521.9" cy="334.3" r="1.3" fill="#1a1a1a"/>
<circle cx="523.9" cy="340.6" r="1.3" fill="#1a1a1a"/>
<circle cx="523.9" cy="346.5" r="1.3" fill="#1a1a1a"/>
<circle cx="522.4" cy="352.6" r="1.3" fill="#1a1a1a"/>
<circle cx="516.4" cy="358.5" r="1.3" fill="#1a1a1a"/>
<circle cx="507.0" cy="364.4" r="1.3" fill="#1a1a1a"/>
<circle cx="498.5" cy="370.5" r="1.3" fill="#1a1a1a"/>
<circle cx="492.5" cy="376.8" r="1.3" fill="#1a1a1a"/>
<circle cx="491.9" cy="383.1" r="1.3" fill="#1a1a1a"/>
<circle cx="499.3" cy="389.0" r="1.3" fill="#1a1a1a"/>
<polyline points="482.3,261.7 479.7,268.2 479.1,274.4 481.2,280.9 482.9,286.9 482.5,292.3 479.1,298.7 480.8,304.5 481.4,310.6 479.3,317.0 477.4,323.0 475.5,328.4 472.3,334.3 470.1,340.6 469.1,346.5 469.1,352.6 472.9,358.5 477.6,364.4 482.3,370.5 483.6,376.8 479.7,383.1 470.6,389.0" fill="none" stroke="#e2191f" stroke-width="1.0" stroke-linejoin="round"/>
<circle cx="482.3" cy="261.7" r="1.3" fill="#e2191f"/>
<circle cx="479.7" cy="268.2" r="1.3" fill="#e2191f"/>
<circle cx="479.1" cy="274.4" r="1.3" fill="#e2191f"/>
<circle cx="481.2" cy="280.9" r="1.3" fill="#e2191f"/>
<circle cx="482.9" cy="286.9" r="1.3" fill="#e2191f"/>
<circle cx="482.5" cy="292.3" r="1.3" fill="#e2191f"/>
<circle cx="479.1" cy="298.7" r="1.3" fill="#e2191f"/>
<circle cx="480.8" cy="304.5" r="1.3" fill="#e2191f"/>
<circle cx="481.4" cy="310.6" r="1.3" fill="#e2191f"/>
<circle cx="479.3" cy="317.0" r="1.3" fill="#e2191f"/>
<circle cx="477.4" cy="323.0" r="1.3" fill="#e2191f"/>
<circle cx="475.5" cy="328.4" r="1.3" fill="#e2191f"/>
<circle cx="472.3" cy="334.3" r="1.3" fill="#e2191f"/>
<circle cx="470.1" cy="340.6" r="1.3" fill="#e2191f"/>
<circle cx="469.1" cy="346.5" r="1.3" fill="#e2191f"/>
<circle cx="469.1" cy="352.6" r="1.3" fill="#e2191f"/>
<circle cx="472.9" cy="358.5" r="1.3" fill="#e2191f"/>
<circle cx="477.6" cy="364.4" r="1.3" fill="#e2191f"/>
<circle cx="482.3" cy="370.5" r="1.3" fill="#e2191f"/>
<circle cx="483.6" cy="376.8" r="1.3" fill="#e2191f"/>
<circle cx="479.7" cy="383.1" r="1.3" fill="#e2191f"/>
<circle cx="470.6" cy="389.0" r="1.3" fill="#e2191f"/>
<text x="460.3" y="426.8" font-family='"Liberation Serif", serif' font-size="10.3" font-weight="bold" fill="#1a1a1a" text-anchor="middle" >-0.2</text>
<text x="495.1" y="426.8" font-family='"Liberation Serif", serif' font-size="10.3" font-weight="bold" fill="#1a1a1a" text-anchor="middle" >0.2</text>
<text x="530.4" y="426.8" font-family='"Liberation Serif", serif' font-size="10.3" font-weight="bold" fill="#1a1a1a" text-anchor="middle" >0.6</text>
<rect x="542.9" y="232.9" width="70.5" height="183.1" fill="none" stroke="#808080" stroke-width="1.15"/>
<path d="M542.9,263.4h1.7M613.4,263.4h-1.7M542.9,293.9h1.7M613.4,293.9h-1.7M542.9,324.4h1.7M613.4,324.4h-1.7M542.9,355.0h1.7M613.4,355.0h-1.7M542.9,385.5h1.7M613.4,385.5h-1.7M567.4,232.9v1.7M567.4,416.0v-1.7M590.5,232.9v1.7M590.5,416.0v-1.7" stroke="#555" stroke-width="0.9" fill="none"/>
<path d="M551.3,232.9v1.2M551.3,416.0v-1.2M555.3,232.9v1.2M555.3,416.0v-1.2M558.2,232.9v1.2M558.2,416.0v-1.2M560.4,232.9v1.2M560.4,416.0v-1.2M562.3,232.9v1.2M562.3,416.0v-1.2M563.8,232.9v1.2M563.8,416.0v-1.2M565.2,232.9v1.2M565.2,416.0v-1.2M566.3,232.9v1.2M566.3,416.0v-1.2M574.4,232.9v1.2M574.4,416.0v-1.2M578.4,232.9v1.2M578.4,416.0v-1.2M581.3,232.9v1.2M581.3,416.0v-1.2M583.5,232.9v1.2M583.5,416.0v-1.2M585.4,232.9v1.2M585.4,416.0v-1.2M586.9,232.9v1.2M586.9,416.0v-1.2M588.3,232.9v1.2M588.3,416.0v-1.2M589.4,232.9v1.2M589.4,416.0v-1.2M597.5,232.9v1.2M597.5,416.0v-1.2M601.5,232.9v1.2M601.5,416.0v-1.2M604.4,232.9v1.2M604.4,416.0v-1.2M606.6,232.9v1.2M606.6,416.0v-1.2M608.5,232.9v1.2M608.5,416.0v-1.2M610.0,232.9v1.2M610.0,416.0v-1.2M611.4,232.9v1.2M611.4,416.0v-1.2" stroke="#555" stroke-width="0.7" fill="none"/>
<polyline points="565.3,261.7 574.9,268.2 571.7,273.6 584.1,279.8 588.3,286.5 559.1,292.3 587.9,298.7 578.1,304.7 581.9,310.6 571.3,317.0 563.8,323.0 591.5,328.6 590.0,334.7 601.7,340.6 586.8,346.9 596.2,352.8 574.5,358.9 565.9,365.2 543.5,371.1" fill="none" stroke="#1a1a1a" stroke-width="1.0" stroke-linejoin="round"/>
<circle cx="565.3" cy="261.7" r="1.3" fill="#1a1a1a"/>
<circle cx="574.9" cy="268.2" r="1.3" fill="#1a1a1a"/>
<circle cx="571.7" cy="273.6" r="1.3" fill="#1a1a1a"/>
<circle cx="584.1" cy="279.8" r="1.3" fill="#1a1a1a"/>
<circle cx="588.3" cy="286.5" r="1.3" fill="#1a1a1a"/>
<circle cx="559.1" cy="292.3" r="1.3" fill="#1a1a1a"/>
<circle cx="587.9" cy="298.7" r="1.3" fill="#1a1a1a"/>
<circle cx="578.1" cy="304.7" r="1.3" fill="#1a1a1a"/>
<circle cx="581.9" cy="310.6" r="1.3" fill="#1a1a1a"/>
<circle cx="571.3" cy="317.0" r="1.3" fill="#1a1a1a"/>
<circle cx="563.8" cy="323.0" r="1.3" fill="#1a1a1a"/>
<circle cx="591.5" cy="328.6" r="1.3" fill="#1a1a1a"/>
<circle cx="590.0" cy="334.7" r="1.3" fill="#1a1a1a"/>
<circle cx="601.7" cy="340.6" r="1.3" fill="#1a1a1a"/>
<circle cx="586.8" cy="346.9" r="1.3" fill="#1a1a1a"/>
<circle cx="596.2" cy="352.8" r="1.3" fill="#1a1a1a"/>
<circle cx="574.5" cy="358.9" r="1.3" fill="#1a1a1a"/>
<circle cx="565.9" cy="365.2" r="1.3" fill="#1a1a1a"/>
<circle cx="543.5" cy="371.1" r="1.3" fill="#1a1a1a"/>
<polyline points="574.5,261.1 564.9,268.2 559.1,273.6 581.5,279.8 562.7,285.8 584.5,292.3 579.4,298.3 578.1,304.7 560.6,311.0 571.7,317.0 579.4,323.0 580.4,328.6 576.6,334.7 562.3,340.6 565.3,346.5 594.7,352.8 602.2,358.9 601.1,364.8 591.5,371.1 577.7,377.0 606.4,383.1" fill="none" stroke="#e2191f" stroke-width="1.0" stroke-linejoin="round"/>
<circle cx="574.5" cy="261.1" r="1.3" fill="#e2191f"/>
<circle cx="564.9" cy="268.2" r="1.3" fill="#e2191f"/>
<circle cx="559.1" cy="273.6" r="1.3" fill="#e2191f"/>
<circle cx="581.5" cy="279.8" r="1.3" fill="#e2191f"/>
<circle cx="562.7" cy="285.8" r="1.3" fill="#e2191f"/>
<circle cx="584.5" cy="292.3" r="1.3" fill="#e2191f"/>
<circle cx="579.4" cy="298.3" r="1.3" fill="#e2191f"/>
<circle cx="578.1" cy="304.7" r="1.3" fill="#e2191f"/>
<circle cx="560.6" cy="311.0" r="1.3" fill="#e2191f"/>
<circle cx="571.7" cy="317.0" r="1.3" fill="#e2191f"/>
<circle cx="579.4" cy="323.0" r="1.3" fill="#e2191f"/>
<circle cx="580.4" cy="328.6" r="1.3" fill="#e2191f"/>
<circle cx="576.6" cy="334.7" r="1.3" fill="#e2191f"/>
<circle cx="562.3" cy="340.6" r="1.3" fill="#e2191f"/>
<circle cx="565.3" cy="346.5" r="1.3" fill="#e2191f"/>
<circle cx="594.7" cy="352.8" r="1.3" fill="#e2191f"/>
<circle cx="602.2" cy="358.9" r="1.3" fill="#e2191f"/>
<circle cx="601.1" cy="364.8" r="1.3" fill="#e2191f"/>
<circle cx="591.5" cy="371.1" r="1.3" fill="#e2191f"/>
<circle cx="577.7" cy="377.0" r="1.3" fill="#e2191f"/>
<circle cx="606.4" cy="383.1" r="1.3" fill="#e2191f"/>
<circle cx="553.6" cy="383.1" r="1.4" fill="#1a1a1a"/>
<text x="567.6" y="426.8" font-family='"Liberation Serif", serif' font-size="10.3" font-weight="bold" fill="#1a1a1a" text-anchor="middle" >10<tspan dy="-4" font-size="6">-4</tspan></text>
<text x="612.3" y="426.8" font-family='"Liberation Serif", serif' font-size="10.3" font-weight="bold" fill="#1a1a1a" text-anchor="middle" >10<tspan dy="-4" font-size="6">-2</tspan></text>
<line x1="665.8" y1="232.9" x2="665.8" y2="416.0" stroke="#e2191f" stroke-width="1.1" stroke-dasharray="2.6,2.2"/>
<rect x="625.6" y="232.9" width="70.3" height="183.1" fill="none" stroke="#808080" stroke-width="1.15"/>
<path d="M625.6,263.4h1.7M695.9,263.4h-1.7M625.6,293.9h1.7M695.9,293.9h-1.7M625.6,324.4h1.7M695.9,324.4h-1.7M625.6,355.0h1.7M695.9,355.0h-1.7M625.6,385.5h1.7M695.9,385.5h-1.7M640.0,232.9v1.7M640.0,416.0v-1.7M676.4,232.9v1.7M676.4,416.0v-1.7" stroke="#555" stroke-width="0.9" fill="none"/>
<path d="M629.0,232.9v1.2M629.0,416.0v-1.2M631.9,232.9v1.2M631.9,416.0v-1.2M634.4,232.9v1.2M634.4,416.0v-1.2M636.5,232.9v1.2M636.5,416.0v-1.2M638.3,232.9v1.2M638.3,416.0v-1.2M651.0,232.9v1.2M651.0,416.0v-1.2M657.4,232.9v1.2M657.4,416.0v-1.2M661.9,232.9v1.2M661.9,416.0v-1.2M665.4,232.9v1.2M665.4,416.0v-1.2M668.3,232.9v1.2M668.3,416.0v-1.2M670.8,232.9v1.2M670.8,416.0v-1.2M672.9,232.9v1.2M672.9,416.0v-1.2M674.7,232.9v1.2M674.7,416.0v-1.2M687.4,232.9v1.2M687.4,416.0v-1.2M693.8,232.9v1.2M693.8,416.0v-1.2" stroke="#555" stroke-width="0.7" fill="none"/>
<polyline points="658.7,261.5 673.7,267.5 675.8,273.6 668.5,279.8 685.4,285.8 647.2,291.8 672.8,298.3 666.4,304.5 682.2,310.6 666.4,317.0 654.0,322.7 674.3,328.6 675.8,334.7 695.5,340.6 681.8,346.5 665.1,352.6 645.0,358.5 639.5,364.8 629.4,370.7" fill="none" stroke="#1a1a1a" stroke-width="1.0" stroke-linejoin="round"/>
<circle cx="658.7" cy="261.5" r="1.3" fill="#1a1a1a"/>
<circle cx="673.7" cy="267.5" r="1.3" fill="#1a1a1a"/>
<circle cx="675.8" cy="273.6" r="1.3" fill="#1a1a1a"/>
<circle cx="668.5" cy="279.8" r="1.3" fill="#1a1a1a"/>
<circle cx="685.4" cy="285.8" r="1.3" fill="#1a1a1a"/>
<circle cx="647.2" cy="291.8" r="1.3" fill="#1a1a1a"/>
<circle cx="672.8" cy="298.3" r="1.3" fill="#1a1a1a"/>
<circle cx="666.4" cy="304.5" r="1.3" fill="#1a1a1a"/>
<circle cx="682.2" cy="310.6" r="1.3" fill="#1a1a1a"/>
<circle cx="666.4" cy="317.0" r="1.3" fill="#1a1a1a"/>
<circle cx="654.0" cy="322.7" r="1.3" fill="#1a1a1a"/>
<circle cx="674.3" cy="328.6" r="1.3" fill="#1a1a1a"/>
<circle cx="675.8" cy="334.7" r="1.3" fill="#1a1a1a"/>
<circle cx="695.5" cy="340.6" r="1.3" fill="#1a1a1a"/>
<circle cx="681.8" cy="346.5" r="1.3" fill="#1a1a1a"/>
<circle cx="665.1" cy="352.6" r="1.3" fill="#1a1a1a"/>
<circle cx="645.0" cy="358.5" r="1.3" fill="#1a1a1a"/>
<circle cx="639.5" cy="364.8" r="1.3" fill="#1a1a1a"/>
<circle cx="629.4" cy="370.7" r="1.3" fill="#1a1a1a"/>
<circle cx="626.2" cy="382.7" r="1.4" fill="#1a1a1a"/>
<text x="680.5" y="426.8" font-family='"Liberation Serif", serif' font-size="10.3" font-weight="bold" fill="#1a1a1a" text-anchor="middle" >10<tspan dy="-4" font-size="6">0</tspan></text>
<text x="31.5" y="10.7" font-family='"Liberation Sans", sans-serif' font-size="12" font-weight="bold" fill="#1a1a1a" text-anchor="start" >A1</text>
<text x="378.5" y="10.7" font-family='"Liberation Sans", sans-serif' font-size="12" font-weight="bold" fill="#1a1a1a" text-anchor="start" >A2</text>
<text x="31.5" y="227.9" font-family='"Liberation Sans", sans-serif' font-size="12" font-weight="bold" fill="#1a1a1a" text-anchor="start" >A3</text>
<text x="378.5" y="227.9" font-family='"Liberation Sans", sans-serif' font-size="12" font-weight="bold" fill="#1a1a1a" text-anchor="start" >A4</text>
<text x="112.6" y="10.7" font-family='"Liberation Sans", sans-serif' font-size="12" font-weight="bold" fill="#1a1a1a" text-anchor="start" >B1</text>
<text x="460.3" y="10.7" font-family='"Liberation Sans", sans-serif' font-size="12" font-weight="bold" fill="#1a1a1a" text-anchor="start" >B2</text>
<text x="112.6" y="227.9" font-family='"Liberation Sans", sans-serif' font-size="12" font-weight="bold" fill="#1a1a1a" text-anchor="start" >B3</text>
<text x="460.3" y="227.9" font-family='"Liberation Sans", sans-serif' font-size="12" font-weight="bold" fill="#1a1a1a" text-anchor="start" >B4</text>
<text x="197.2" y="10.7" font-family='"Liberation Sans", sans-serif' font-size="12" font-weight="bold" fill="#1a1a1a" text-anchor="start" >C1</text>
<text x="544.6" y="10.7" font-family='"Liberation Sans", sans-serif' font-size="12" font-weight="bold" fill="#1a1a1a" text-anchor="start" >C2</text>
<text x="197.2" y="227.9" font-family='"Liberation Sans", sans-serif' font-size="12" font-weight="bold" fill="#1a1a1a" text-anchor="start" >C3</text>
<text x="544.6" y="227.9" font-family='"Liberation Sans", sans-serif' font-size="12" font-weight="bold" fill="#1a1a1a" text-anchor="start" >C4</text>
<text x="279.0" y="10.7" font-family='"Liberation Sans", sans-serif' font-size="12" font-weight="bold" fill="#1a1a1a" text-anchor="start" >D1</text>
<text x="623.5" y="10.7" font-family='"Liberation Sans", sans-serif' font-size="12" font-weight="bold" fill="#1a1a1a" text-anchor="start" >D2</text>
<text x="279.0" y="227.9" font-family='"Liberation Sans", sans-serif' font-size="12" font-weight="bold" fill="#1a1a1a" text-anchor="start" >D3</text>
<text x="623.5" y="227.9" font-family='"Liberation Sans", sans-serif' font-size="12" font-weight="bold" fill="#1a1a1a" text-anchor="start" >D4</text>
<text x="0.6" y="27.2" font-family='"Liberation Serif", serif' font-size="13" font-weight="bold" fill="#1a1a1a" text-anchor="start" >T1</text>
<text x="26.0" y="26.5" font-family='"Liberation Serif", serif' font-size="10.3" font-weight="bold" fill="#1a1a1a" text-anchor="middle" >0</text>
<text x="26.0" y="57.0" font-family='"Liberation Serif", serif' font-size="10.3" font-weight="bold" fill="#1a1a1a" text-anchor="middle" >5</text>
<text x="25.6" y="87.5" font-family='"Liberation Serif", serif' font-size="10.3" font-weight="bold" fill="#1a1a1a" text-anchor="middle" letter-spacing="-0.6">10</text>
<text x="25.6" y="118.0" font-family='"Liberation Serif", serif' font-size="10.3" font-weight="bold" fill="#1a1a1a" text-anchor="middle" letter-spacing="-0.6">15</text>
<text x="25.6" y="148.5" font-family='"Liberation Serif", serif' font-size="10.3" font-weight="bold" fill="#1a1a1a" text-anchor="middle" letter-spacing="-0.6">20</text>
<text x="25.6" y="179.0" font-family='"Liberation Serif", serif' font-size="10.3" font-weight="bold" fill="#1a1a1a" text-anchor="middle" letter-spacing="-0.6">25</text>
<text transform="translate(11.4,104.4) rotate(-90)" font-family='"Liberation Serif", serif' font-size="14.3" font-weight="bold" fill="#1a1a1a" text-anchor="middle" textLength="61" lengthAdjust="spacing">Depth (m)</text>
<text x="349.1" y="27.2" font-family='"Liberation Serif", serif' font-size="13" font-weight="bold" fill="#1a1a1a" text-anchor="start" >T2</text>
<text x="371.0" y="26.5" font-family='"Liberation Serif", serif' font-size="10.3" font-weight="bold" fill="#1a1a1a" text-anchor="middle" >0</text>
<text x="371.0" y="57.0" font-family='"Liberation Serif", serif' font-size="10.3" font-weight="bold" fill="#1a1a1a" text-anchor="middle" >5</text>
<text x="369.9" y="87.5" font-family='"Liberation Serif", serif' font-size="10.3" font-weight="bold" fill="#1a1a1a" text-anchor="middle" letter-spacing="-0.6">10</text>
<text x="369.9" y="118.0" font-family='"Liberation Serif", serif' font-size="10.3" font-weight="bold" fill="#1a1a1a" text-anchor="middle" letter-spacing="-0.6">15</text>
<text x="369.9" y="148.5" font-family='"Liberation Serif", serif' font-size="10.3" font-weight="bold" fill="#1a1a1a" text-anchor="middle" letter-spacing="-0.6">20</text>
<text x="369.9" y="179.0" font-family='"Liberation Serif", serif' font-size="10.3" font-weight="bold" fill="#1a1a1a" text-anchor="middle" letter-spacing="-0.6">25</text>
<text transform="translate(358.5,104.4) rotate(-90)" font-family='"Liberation Serif", serif' font-size="14.3" font-weight="bold" fill="#1a1a1a" text-anchor="middle" textLength="61" lengthAdjust="spacing">Depth (m)</text>
<text x="0.6" y="239.1" font-family='"Liberation Serif", serif' font-size="13" font-weight="bold" fill="#1a1a1a" text-anchor="start" >T3</text>
<text x="26.0" y="238.8" font-family='"Liberation Serif", serif' font-size="10.3" font-weight="bold" fill="#1a1a1a" text-anchor="middle" >0</text>
<text x="26.0" y="267.0" font-family='"Liberation Serif", serif' font-size="10.3" font-weight="bold" fill="#1a1a1a" text-anchor="middle" >5</text>
<text x="25.6" y="297.5" font-family='"Liberation Serif", serif' font-size="10.3" font-weight="bold" fill="#1a1a1a" text-anchor="middle" letter-spacing="-0.6">10</text>
<text x="25.6" y="328.1" font-family='"Liberation Serif", serif' font-size="10.3" font-weight="bold" fill="#1a1a1a" text-anchor="middle" letter-spacing="-0.6">15</text>
<text x="25.6" y="358.6" font-family='"Liberation Serif", serif' font-size="10.3" font-weight="bold" fill="#1a1a1a" text-anchor="middle" letter-spacing="-0.6">20</text>
<text x="25.6" y="389.1" font-family='"Liberation Serif", serif' font-size="10.3" font-weight="bold" fill="#1a1a1a" text-anchor="middle" letter-spacing="-0.6">25</text>
<text transform="translate(11.4,314.4) rotate(-90)" font-family='"Liberation Serif", serif' font-size="14.3" font-weight="bold" fill="#1a1a1a" text-anchor="middle" textLength="61" lengthAdjust="spacing">Depth (m)</text>
<text x="349.1" y="239.1" font-family='"Liberation Serif", serif' font-size="13" font-weight="bold" fill="#1a1a1a" text-anchor="start" >T4</text>
<text x="371.0" y="238.8" font-family='"Liberation Serif", serif' font-size="10.3" font-weight="bold" fill="#1a1a1a" text-anchor="middle" >0</text>
<text x="371.0" y="267.0" font-family='"Liberation Serif", serif' font-size="10.3" font-weight="bold" fill="#1a1a1a" text-anchor="middle" >5</text>
<text x="369.9" y="297.5" font-family='"Liberation Serif", serif' font-size="10.3" font-weight="bold" fill="#1a1a1a" text-anchor="middle" letter-spacing="-0.6">10</text>
<text x="369.9" y="328.1" font-family='"Liberation Serif", serif' font-size="10.3" font-weight="bold" fill="#1a1a1a" text-anchor="middle" letter-spacing="-0.6">15</text>
<text x="369.9" y="358.6" font-family='"Liberation Serif", serif' font-size="10.3" font-weight="bold" fill="#1a1a1a" text-anchor="middle" letter-spacing="-0.6">20</text>
<text x="369.9" y="389.1" font-family='"Liberation Serif", serif' font-size="10.3" font-weight="bold" fill="#1a1a1a" text-anchor="middle" letter-spacing="-0.6">25</text>
<text transform="translate(358.5,314.4) rotate(-90)" font-family='"Liberation Serif", serif' font-size="14.3" font-weight="bold" fill="#1a1a1a" text-anchor="middle" textLength="61" lengthAdjust="spacing">Depth (m)</text>
<text x="132.6" y="35.2" font-family='"Liberation Serif", serif' font-size="11.5" font-weight="bold" fill="#e2191f" text-anchor="start" textLength="29" lengthAdjust="spacing">u,v=0</text>
<text x="491.2" y="35.2" font-family='"Liberation Serif", serif' font-size="11.5" font-weight="bold" fill="#e2191f" text-anchor="start" textLength="29" lengthAdjust="spacing">u,v=0</text>
<text x="147.6" y="245.8" font-family='"Liberation Serif", serif' font-size="11.5" font-weight="bold" fill="#e2191f" text-anchor="start" textLength="29" lengthAdjust="spacing">u,v=0</text>
<text x="489.2" y="245.8" font-family='"Liberation Serif", serif' font-size="11.5" font-weight="bold" fill="#e2191f" text-anchor="start" textLength="29" lengthAdjust="spacing">u,v=0</text>
<text x="294.0" y="35.2" font-family='"Liberation Serif", serif' font-size="11.5" font-weight="bold" fill="#e2191f" text-anchor="start" textLength="45" lengthAdjust="spacing">Ri<tspan dy="2.0" font-size="7">g</tspan><tspan dy="-2.0">=0.25</tspan></text>
<text x="643.0" y="35.2" font-family='"Liberation Serif", serif' font-size="11.5" font-weight="bold" fill="#e2191f" text-anchor="start" textLength="45" lengthAdjust="spacing">Ri<tspan dy="2.0" font-size="7">g</tspan><tspan dy="-2.0">=0.25</tspan></text>
<text x="295.6" y="245.8" font-family='"Liberation Serif", serif' font-size="11.5" font-weight="bold" fill="#e2191f" text-anchor="start" textLength="45" lengthAdjust="spacing">Ri<tspan dy="2.0" font-size="7">g</tspan><tspan dy="-2.0">=0.25</tspan></text>
<text x="645.0" y="245.8" font-family='"Liberation Serif", serif' font-size="11.5" font-weight="bold" fill="#e2191f" text-anchor="start" textLength="45" lengthAdjust="spacing">Ri<tspan dy="2.0" font-size="7">g</tspan><tspan dy="-2.0">=0.25</tspan></text>
<line x1="145.8" y1="194.3" x2="154.7" y2="194.3" stroke="#1a1a1a" stroke-width="1"/>
<circle cx="150.2" cy="194.3" r="1.3" fill="#1a1a1a"/>
<text x="158.0" y="195.6" font-family='"Liberation Serif", serif' font-size="12" font-weight="bold" fill="#1a1a1a" text-anchor="start" >u</text>
<line x1="145.8" y1="200.2" x2="154.7" y2="200.2" stroke="#e2191f" stroke-width="1"/>
<circle cx="150.2" cy="200.2" r="1.3" fill="#e2191f"/>
<text x="158.0" y="203.0" font-family='"Liberation Serif", serif' font-size="12" font-weight="bold" fill="#1a1a1a" text-anchor="start" >v</text>
<line x1="493.1" y1="194.6" x2="502.4" y2="194.6" stroke="#1a1a1a" stroke-width="1"/>
<circle cx="497.8" cy="194.6" r="1.3" fill="#1a1a1a"/>
<text x="505.0" y="195.9" font-family='"Liberation Serif", serif' font-size="11" font-weight="bold" fill="#1a1a1a" text-anchor="start" >u</text>
<line x1="493.1" y1="200.3" x2="502.4" y2="200.3" stroke="#e2191f" stroke-width="1"/>
<circle cx="497.8" cy="200.3" r="1.3" fill="#e2191f"/>
<text x="505.0" y="202.8" font-family='"Liberation Serif", serif' font-size="11" font-weight="bold" fill="#1a1a1a" text-anchor="start" >v</text>
<line x1="146.1" y1="403.5" x2="155.4" y2="403.5" stroke="#1a1a1a" stroke-width="1"/>
<circle cx="150.8" cy="403.5" r="1.3" fill="#1a1a1a"/>
<text x="157.8" y="405.1" font-family='"Liberation Serif", serif' font-size="12" font-weight="bold" fill="#1a1a1a" text-anchor="start" >u</text>
<line x1="146.1" y1="409.2" x2="155.4" y2="409.2" stroke="#e2191f" stroke-width="1"/>
<circle cx="150.8" cy="409.2" r="1.3" fill="#e2191f"/>
<text x="157.8" y="413.3" font-family='"Liberation Serif", serif' font-size="12" font-weight="bold" fill="#1a1a1a" text-anchor="start" >v</text>
<line x1="492.8" y1="403.5" x2="502.1" y2="403.5" stroke="#1a1a1a" stroke-width="1"/>
<circle cx="497.5" cy="403.5" r="1.3" fill="#1a1a1a"/>
<text x="505.0" y="405.4" font-family='"Liberation Serif", serif' font-size="12" font-weight="bold" fill="#1a1a1a" text-anchor="start" >u</text>
<line x1="492.8" y1="409.2" x2="502.1" y2="409.2" stroke="#e2191f" stroke-width="1"/>
<circle cx="497.5" cy="409.2" r="1.3" fill="#e2191f"/>
<text x="505.0" y="412.2" font-family='"Liberation Serif", serif' font-size="12" font-weight="bold" fill="#1a1a1a" text-anchor="start" >v</text>
<line x1="232.9" y1="190.4" x2="241.9" y2="190.4" stroke="#1a1a1a" stroke-width="1"/>
<circle cx="237.4" cy="190.4" r="1.3" fill="#1a1a1a"/>
<line x1="232.9" y1="198.3" x2="241.9" y2="198.3" stroke="#e2191f" stroke-width="1"/>
<circle cx="237.4" cy="198.3" r="1.3" fill="#e2191f"/>
<text x="247.6" y="192.9" font-family='"Liberation Serif", serif' font-size="11" font-weight="bold" fill="#1a1a1a" text-anchor="start" >N<tspan dx="0.8" dy="-5.6" font-size="5">2</tspan></text>
<text x="243.5" y="203.5" font-family='"Liberation Serif", serif' font-size="11" font-weight="bold" fill="#1a1a1a" text-anchor="start" >S<tspan dx="0.6" dy="-5.6" font-size="5">2</tspan><tspan dx="0.6" dy="5.6">/4</tspan></text>
<line x1="579.5" y1="191.1" x2="588.9" y2="191.1" stroke="#1a1a1a" stroke-width="1"/>
<circle cx="584.2" cy="191.1" r="1.3" fill="#1a1a1a"/>
<line x1="579.5" y1="199.0" x2="588.9" y2="199.0" stroke="#e2191f" stroke-width="1"/>
<circle cx="584.2" cy="199.0" r="1.3" fill="#e2191f"/>
<text x="596.0" y="193.1" font-family='"Liberation Serif", serif' font-size="11" font-weight="bold" fill="#1a1a1a" text-anchor="start" >N<tspan dx="0.8" dy="-5.6" font-size="5">2</tspan></text>
<text x="590.5" y="203.5" font-family='"Liberation Serif", serif' font-size="11" font-weight="bold" fill="#1a1a1a" text-anchor="start" >S<tspan dx="0.6" dy="-5.6" font-size="5">2</tspan><tspan dx="0.6" dy="5.6">/4</tspan></text>
<line x1="234.3" y1="401.8" x2="243.8" y2="401.8" stroke="#1a1a1a" stroke-width="1"/>
<circle cx="239.1" cy="401.8" r="1.3" fill="#1a1a1a"/>
<line x1="234.3" y1="408.8" x2="243.8" y2="408.8" stroke="#e2191f" stroke-width="1"/>
<circle cx="239.1" cy="408.8" r="1.3" fill="#e2191f"/>
<text x="248.7" y="403.3" font-family='"Liberation Serif", serif' font-size="11" font-weight="bold" fill="#1a1a1a" text-anchor="start" >N<tspan dx="0.8" dy="-5.6" font-size="5">2</tspan></text>
<text x="245.1" y="413.3" font-family='"Liberation Serif", serif' font-size="11" font-weight="bold" fill="#1a1a1a" text-anchor="start" >S<tspan dx="0.6" dy="-5.6" font-size="5">2</tspan><tspan dx="0.6" dy="5.6">/4</tspan></text>
<line x1="582.0" y1="402.3" x2="591.2" y2="402.3" stroke="#1a1a1a" stroke-width="1"/>
<circle cx="586.6" cy="402.3" r="1.3" fill="#1a1a1a"/>
<line x1="582.0" y1="409.5" x2="591.2" y2="409.5" stroke="#e2191f" stroke-width="1"/>
<circle cx="586.6" cy="409.5" r="1.3" fill="#e2191f"/>
<text x="596.4" y="404.0" font-family='"Liberation Serif", serif' font-size="11" font-weight="bold" fill="#1a1a1a" text-anchor="start" >N<tspan dx="0.8" dy="-5.6" font-size="5">2</tspan></text>
<text x="591.4" y="414.0" font-family='"Liberation Serif", serif' font-size="11" font-weight="bold" fill="#1a1a1a" text-anchor="start" >S<tspan dx="0.6" dy="-5.6" font-size="5">2</tspan><tspan dx="0.6" dy="5.6">/4</tspan></text>
<text x="66.6" y="440.3" font-family='"Liberation Serif", serif' font-size="13.5" font-weight="bold" fill="#1a1a1a" text-anchor="middle" textLength="55.5" lengthAdjust="spacing">σ(kg·m<tspan dy="-5" font-size="7">-3</tspan><tspan dy="5">)</tspan></text>
<text x="413.8" y="440.3" font-family='"Liberation Serif", serif' font-size="13.5" font-weight="bold" fill="#1a1a1a" text-anchor="middle" textLength="55.5" lengthAdjust="spacing">σ(kg·m<tspan dy="-5" font-size="7">-3</tspan><tspan dy="5">)</tspan></text>
<text x="149.0" y="440.3" font-family='"Liberation Serif", serif' font-size="13.5" font-weight="bold" fill="#1a1a1a" text-anchor="middle" textLength="49.2" lengthAdjust="spacing">u,v(m/s)</text>
<text x="496.7" y="440.3" font-family='"Liberation Serif", serif' font-size="13.5" font-weight="bold" fill="#1a1a1a" text-anchor="middle" textLength="49.2" lengthAdjust="spacing">u,v(m/s)</text>
<text x="230.0" y="440.3" font-family='"Liberation Serif", serif' font-size="13.5" font-weight="bold" fill="#1a1a1a" text-anchor="middle" textLength="68.5" lengthAdjust="spacing">N<tspan dy="-5" font-size="7">2</tspan><tspan dy="5">,S</tspan><tspan dy="-5" font-size="7">2</tspan><tspan dy="5">/4(m</tspan><tspan dy="-5" font-size="7">-2</tspan><tspan dy="5">)</tspan></text>
<text x="579.2" y="440.3" font-family='"Liberation Serif", serif' font-size="13.5" font-weight="bold" fill="#1a1a1a" text-anchor="middle" textLength="68.5" lengthAdjust="spacing">N<tspan dy="-5" font-size="7">2</tspan><tspan dy="5">,S</tspan><tspan dy="-5" font-size="7">2</tspan><tspan dy="5">/4(m</tspan><tspan dy="-5" font-size="7">-2</tspan><tspan dy="5">)</tspan></text>
<text x="306.6" y="439.1" font-family='"Liberation Serif", serif' font-size="13.5" font-weight="bold" fill="#1a1a1a" text-anchor="start" >Ri<tspan dx="0.8" dy="3" font-size="8">g</tspan></text>
<text x="657.0" y="439.1" font-family='"Liberation Serif", serif' font-size="13.5" font-weight="bold" fill="#1a1a1a" text-anchor="start" >Ri<tspan dx="0.8" dy="3" font-size="8">g</tspan></text>
</svg>
</body></html>
